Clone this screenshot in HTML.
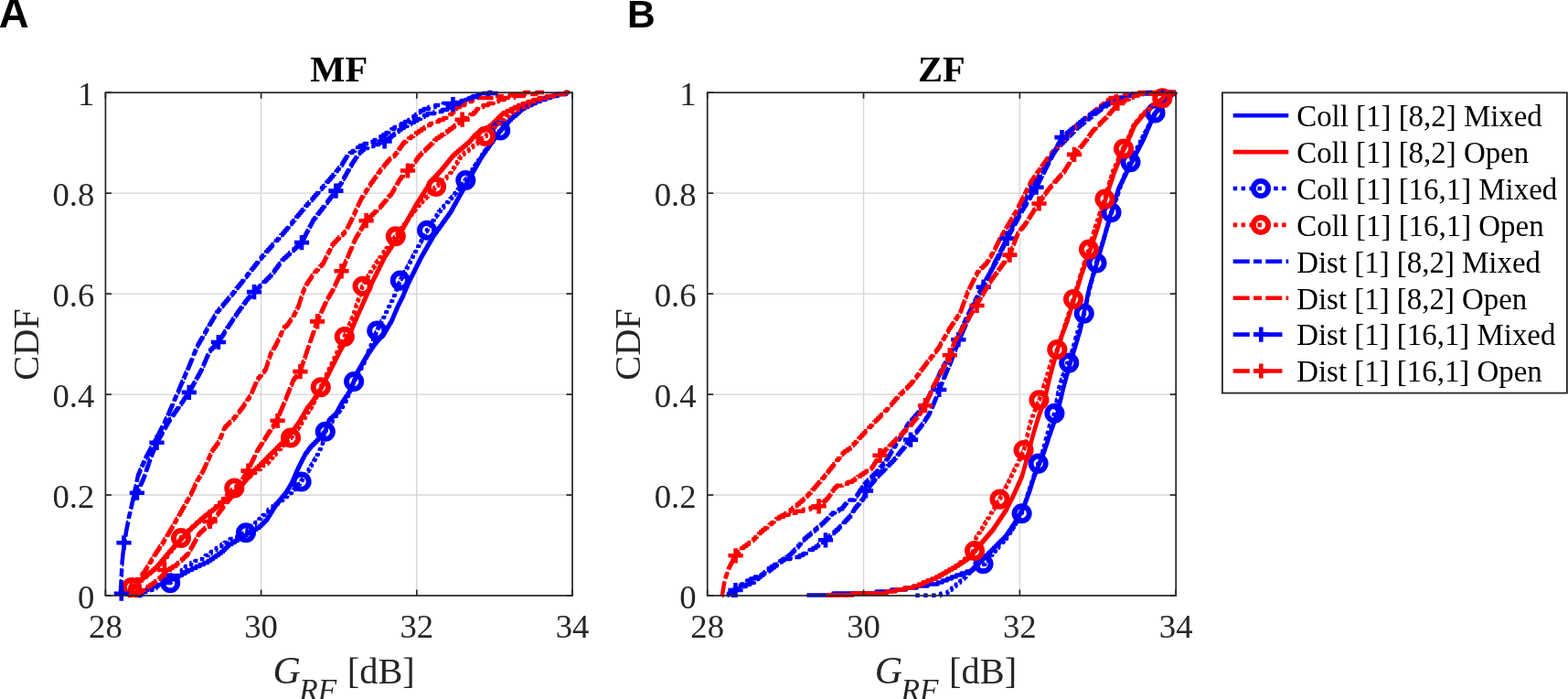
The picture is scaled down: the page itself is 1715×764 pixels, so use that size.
<!DOCTYPE html>
<html><head><meta charset="utf-8"><style>
html,body{margin:0;padding:0;background:#fff;overflow:hidden;}
svg{display:block;}
.tk{font-family:"Liberation Serif",serif;font-size:36.7px;fill:#262626;}
.ttl{font-family:"Liberation Serif",serif;font-size:40.5px;font-weight:bold;fill:#000;}
.lab{font-family:"Liberation Serif",serif;font-size:40.4px;fill:#262626;}
.lg{font-family:"Liberation Serif",serif;font-size:32.9px;fill:#000;}
.pl{font-family:"Liberation Sans",sans-serif;font-weight:bold;fill:#000;}
</style></head><body>
<svg width="1715" height="764" viewBox="0 0 1715 764">
<rect width="1715" height="764" fill="#fff"/>
<line x1="285.60" y1="101.20" x2="285.60" y2="651.00" stroke="#d6d6d6" stroke-width="1.4"/>
<line x1="455.80" y1="101.20" x2="455.80" y2="651.00" stroke="#d6d6d6" stroke-width="1.4"/>
<line x1="115.40" y1="541.04" x2="626.00" y2="541.04" stroke="#d6d6d6" stroke-width="1.4"/>
<line x1="115.40" y1="431.08" x2="626.00" y2="431.08" stroke="#d6d6d6" stroke-width="1.4"/>
<line x1="115.40" y1="321.12" x2="626.00" y2="321.12" stroke="#d6d6d6" stroke-width="1.4"/>
<line x1="115.40" y1="211.16" x2="626.00" y2="211.16" stroke="#d6d6d6" stroke-width="1.4"/>
<line x1="944.53" y1="101.20" x2="944.53" y2="651.00" stroke="#d6d6d6" stroke-width="1.4"/>
<line x1="1115.37" y1="101.20" x2="1115.37" y2="651.00" stroke="#d6d6d6" stroke-width="1.4"/>
<line x1="773.70" y1="541.04" x2="1286.20" y2="541.04" stroke="#d6d6d6" stroke-width="1.4"/>
<line x1="773.70" y1="431.08" x2="1286.20" y2="431.08" stroke="#d6d6d6" stroke-width="1.4"/>
<line x1="773.70" y1="321.12" x2="1286.20" y2="321.12" stroke="#d6d6d6" stroke-width="1.4"/>
<line x1="773.70" y1="211.16" x2="1286.20" y2="211.16" stroke="#d6d6d6" stroke-width="1.4"/>
<g stroke-linecap="butt">
<path d="M150.0 651.00H152.2V649.00H156.0V647.00H158.8V645.00H161.5V643.00H166.8V641.00H172.7V639.00H178.0V637.00H182.4V635.00H186.7V633.00H191.1V631.00H195.5V629.00H199.0V627.00H202.7V625.00H206.0V623.00H210.1V621.00H214.5V619.00H218.7V617.00H223.1V615.00H227.4V613.00H230.4V611.00H233.3V609.00H236.2V607.00H239.0V605.00H241.8V603.00H244.3V601.00H246.3V599.00H248.2V597.00H250.2V595.00H253.6V593.00H256.9V591.00H260.1V589.00H263.4V587.00H266.7V585.00H269.9V583.00H273.6V581.00H276.9V579.00H280.5V577.00H283.8V575.00H285.8V573.00H287.8V571.00H289.8V569.00H291.8V567.00H293.1V565.00H294.3V563.00H295.6V561.00H296.8V559.00H298.1V557.00H299.3V555.00H300.6V553.00H301.9V551.00H303.3V549.00H305.0V547.00H306.7V545.00H308.4V543.00H310.0V541.00H311.7V539.00H313.2V537.00H314.4V535.00H315.6V533.00H316.8V531.00H318.0V529.00H319.1V527.00H320.0V525.00H320.9V523.00H321.7V521.00H322.5V519.00H323.4V517.00H324.3V515.00H325.2V513.00H326.1V511.00H327.1V509.00H328.1V507.00H329.1V505.00H330.1V503.00H331.1V501.00H332.2V499.00H333.2V497.00H334.3V495.00H335.9V493.00H337.3V491.00H338.8V489.00H340.4V487.00H342.4V485.00H344.4V483.00H346.4V481.00H348.4V479.00H350.1V477.00H351.8V475.00H353.5V473.00H355.4V471.00H356.3V469.00H357.0V467.00H357.7V465.00H358.4V463.00H359.1V461.00H359.7V459.00H361.3V457.00H363.6V455.00H365.8V453.00H367.7V451.00H368.8V449.00H369.9V447.00H371.0V445.00H372.1V443.00H373.2V441.00H374.3V439.00H375.7V437.00H377.0V435.00H378.3V433.00H379.8V431.00H381.1V429.00H382.5V427.00H383.7V425.00H384.4V423.00H385.2V421.00H385.9V419.00H386.7V417.00H387.4V415.00H388.2V413.00H388.9V411.00H389.6V409.00H390.4V407.00H391.4V405.00H392.5V403.00H393.7V401.00H394.9V399.00H396.0V397.00H397.2V395.00H398.3V393.00H399.5V391.00H400.7V389.00H402.0V387.00H403.3V385.00H404.7V383.00H406.0V381.00H407.4V379.00H408.7V377.00H410.1V375.00H411.8V373.00H413.5V371.00H415.1V369.00H416.8V367.00H418.5V365.00H420.1V363.00H421.6V361.00H422.9V359.00H424.0V357.00H425.3V355.00H426.4V353.00H427.7V351.00H428.7V349.00H429.6V347.00H430.4V345.00H431.3V343.00H432.1V341.00H433.0V339.00H433.8V337.00H434.7V335.00H435.6V333.00H436.6V331.00H437.6V329.00H438.6V327.00H439.6V325.00H440.6V323.00H441.5V321.00H442.2V319.00H443.1V317.00H444.0V315.00H444.8V313.00H445.7V311.00H446.5V309.00H447.4V307.00H448.4V305.00H449.4V303.00H450.4V301.00H451.4V299.00H452.4V297.00H453.4V295.00H454.4V293.00H455.4V291.00H456.4V289.00H457.4V287.00H458.4V285.00H459.4V283.00H460.4V281.00H461.4V279.00H462.6V277.00H463.8V275.00H464.9V273.00H466.1V271.00H467.2V269.00H468.4V267.00H469.5V265.00H470.7V263.00H471.8V261.00H473.0V259.00H474.1V257.00H475.6V255.00H477.0V253.00H478.4V251.00H479.8V249.00H481.4V247.00H482.8V245.00H484.2V243.00H485.6V241.00H487.1V239.00H488.5V237.00H489.9V235.00H491.3V233.00H492.8V231.00H493.9V229.00H495.0V227.00H496.1V225.00H497.2V223.00H498.4V221.00H499.4V219.00H500.6V217.00H501.7V215.00H502.7V213.00H503.9V211.00H505.0V209.00H506.2V207.00H507.2V205.00H508.3V203.00H509.5V201.00H510.5V199.00H511.7V197.00H512.8V195.00H514.0V193.00H515.1V191.00H516.3V189.00H517.4V187.00H518.5V185.00H519.7V183.00H520.8V181.00H522.0V179.00H523.1V177.00H524.3V175.00H525.4V173.00H526.6V171.00H527.9V169.00H529.3V167.00H530.7V165.00H532.1V163.00H533.6V161.00H535.0V159.00H536.4V157.00H537.8V155.00H539.3V153.00H540.7V151.00H542.1V149.00H543.5V147.00H545.1V145.00H546.5V143.00H548.2V141.00H550.1V139.00H551.9V137.00H553.6V135.00H555.5V133.00H557.2V131.00H559.0V129.00H561.2V127.00H563.7V125.00H566.0V123.00H568.2V121.00H570.5V119.00H573.5V117.00H577.6V115.00H581.6V113.00H585.7V111.00H591.0V109.00H596.7V107.00H602.4V105.00H610.0V103.00H618.9V101.00H622.0" fill="none" stroke="#0000ff" stroke-width="4.4" stroke-linejoin="round"/>
<path d="M141.0 651.00H141.8V649.00H143.0V647.00H144.4V645.00H145.6V643.00H146.9V641.00H148.2V639.00H149.5V637.00H151.4V635.00H154.0V633.00H156.5V631.00H159.1V629.00H161.6V627.00H164.3V625.00H166.8V623.00H169.4V621.00H171.3V619.00H173.0V617.00H174.7V615.00H176.4V613.00H178.1V611.00H179.8V609.00H181.4V607.00H183.1V605.00H184.8V603.00H186.5V601.00H188.4V599.00H190.1V597.00H192.0V595.00H193.8V593.00H195.7V591.00H197.6V589.00H199.4V587.00H201.3V585.00H203.0V583.00H205.0V581.00H206.9V579.00H208.9V577.00H211.1V575.00H213.4V573.00H215.5V571.00H217.7V569.00H220.0V567.00H222.2V565.00H224.5V563.00H227.2V561.00H229.8V559.00H232.3V557.00H234.9V555.00H237.4V553.00H240.0V551.00H242.5V549.00H244.9V547.00H247.2V545.00H249.7V543.00H252.1V541.00H254.2V539.00H256.4V537.00H258.6V535.00H260.7V533.00H262.9V531.00H264.6V529.00H266.3V527.00H268.0V525.00H269.8V523.00H271.5V521.00H273.3V519.00H275.0V517.00H276.8V515.00H278.6V513.00H280.6V511.00H282.8V509.00H284.8V507.00H286.8V505.00H288.8V503.00H290.8V501.00H292.7V499.00H294.7V497.00H296.7V495.00H298.8V493.00H300.8V491.00H302.8V489.00H304.8V487.00H306.8V485.00H308.8V483.00H310.8V481.00H312.7V479.00H314.7V477.00H316.7V475.00H318.2V473.00H319.6V471.00H321.1V469.00H322.5V467.00H324.0V465.00H325.4V463.00H326.8V461.00H328.1V459.00H329.3V457.00H330.4V455.00H331.6V453.00H332.7V451.00H333.8V449.00H335.0V447.00H336.2V445.00H337.8V443.00H339.5V441.00H341.0V439.00H342.4V437.00H343.7V435.00H345.1V433.00H346.3V431.00H347.8V429.00H349.0V427.00H350.4V425.00H351.5V423.00H352.5V421.00H353.5V419.00H354.6V417.00H355.6V415.00H356.6V413.00H357.6V411.00H358.6V409.00H359.7V407.00H360.7V405.00H361.7V403.00H362.7V401.00H363.7V399.00H364.7V397.00H365.7V395.00H366.7V393.00H367.7V391.00H368.7V389.00H369.7V387.00H370.7V385.00H371.7V383.00H372.8V381.00H373.9V379.00H375.0V377.00H376.1V375.00H377.3V373.00H378.3V371.00H379.5V369.00H380.6V367.00H381.7V365.00H382.8V363.00H383.8V361.00H384.7V359.00H385.6V357.00H386.4V355.00H387.2V353.00H388.1V351.00H388.9V349.00H389.8V347.00H390.7V345.00H391.5V343.00H392.4V341.00H393.3V339.00H394.2V337.00H395.1V335.00H396.0V333.00H396.9V331.00H397.8V329.00H398.7V327.00H399.6V325.00H400.5V323.00H401.4V321.00H402.2V319.00H403.1V317.00H403.9V315.00H404.8V313.00H405.7V311.00H406.5V309.00H407.4V307.00H408.4V305.00H409.3V303.00H410.4V301.00H411.4V299.00H412.4V297.00H413.4V295.00H414.4V293.00H415.3V291.00H416.3V289.00H417.3V287.00H418.3V285.00H419.3V283.00H420.3V281.00H421.3V279.00H422.7V277.00H424.0V275.00H425.4V273.00H426.6V271.00H428.1V269.00H429.3V267.00H430.8V265.00H432.0V263.00H433.4V261.00H434.7V259.00H436.1V257.00H437.2V255.00H438.3V253.00H439.4V251.00H440.5V249.00H441.7V247.00H442.8V245.00H443.9V243.00H445.0V241.00H446.2V239.00H447.3V237.00H448.3V235.00H449.5V233.00H450.6V231.00H451.8V229.00H452.8V227.00H454.0V225.00H455.1V223.00H456.4V221.00H457.7V219.00H459.0V217.00H460.2V215.00H461.5V213.00H462.8V211.00H464.1V209.00H465.3V207.00H466.6V205.00H467.9V203.00H469.1V201.00H470.4V199.00H471.7V197.00H473.6V195.00H475.4V193.00H477.3V191.00H479.0V189.00H480.9V187.00H482.7V185.00H484.4V183.00H486.1V181.00H487.7V179.00H489.3V177.00H491.0V175.00H492.5V173.00H494.1V171.00H496.0V169.00H498.3V167.00H500.6V165.00H502.9V163.00H505.4V161.00H507.7V159.00H510.0V157.00H512.4V155.00H514.4V153.00H516.0V151.00H517.7V149.00H519.4V147.00H522.1V145.00H525.5V143.00H529.0V141.00H532.5V139.00H535.7V137.00H538.2V135.00H540.2V133.00H542.2V131.00H544.2V129.00H546.2V127.00H548.3V125.00H550.6V123.00H554.6V121.00H558.7V119.00H562.6V117.00H566.8V115.00H571.6V113.00H577.3V111.00H583.0V109.00H589.5V107.00H597.7V105.00H606.3V103.00H618.8V101.00H623.2" fill="none" stroke="#ff0000" stroke-width="4.4" stroke-linejoin="round"/>
<path d="M152.0 651.00H154.0V649.00H157.9V647.00H162.3V645.00H166.5V643.00H170.8V641.00H175.0V639.00H181.8V637.00H186.9V635.00H188.9V633.00H190.9V631.00H192.9V629.00H194.8V627.00H196.8V625.00H198.8V623.00H200.8V621.00H202.8V619.00H205.3V617.00H209.2V615.00H213.4V613.00H217.3V611.00H221.3V609.00H224.8V607.00H227.7V605.00H230.7V603.00H233.6V601.00H236.6V599.00H239.5V597.00H242.4V595.00H245.4V593.00H248.3V591.00H251.6V589.00H255.8V587.00H259.7V585.00H263.7V583.00H267.8V581.00H270.5V579.00H272.6V577.00H274.9V575.00H277.1V573.00H279.2V571.00H281.4V569.00H283.4V567.00H285.4V565.00H287.3V563.00H289.3V561.00H291.3V559.00H293.4V557.00H295.8V555.00H298.5V553.00H301.3V551.00H303.9V549.00H306.6V547.00H309.3V545.00H311.9V543.00H314.2V541.00H316.7V539.00H319.0V537.00H321.3V535.00H323.5V533.00H325.1V531.00H326.6V529.00H328.0V527.00H329.6V525.00H330.9V523.00H332.3V521.00H333.6V519.00H335.0V517.00H336.2V515.00H337.6V513.00H338.8V511.00H339.9V509.00H341.1V507.00H342.3V505.00H343.4V503.00H344.6V501.00H345.7V499.00H346.8V497.00H347.8V495.00H348.8V493.00H349.8V491.00H350.8V489.00H351.8V487.00H352.7V485.00H353.2V483.00H353.6V481.00H354.0V479.00H354.4V477.00H354.8V475.00H355.3V473.00H355.7V471.00H356.8V469.00H358.2V467.00H359.6V465.00H360.9V463.00H362.3V461.00H363.7V459.00H365.1V457.00H366.5V455.00H367.9V453.00H369.3V451.00H370.7V449.00H372.2V447.00H373.6V445.00H375.0V443.00H376.4V441.00H377.8V439.00H378.6V437.00H379.4V435.00H380.3V433.00H381.0V431.00H381.8V429.00H382.6V427.00H383.5V425.00H384.2V423.00H385.0V421.00H385.8V419.00H386.7V417.00H387.5V415.00H388.7V413.00H389.8V411.00H391.0V409.00H392.1V407.00H393.1V405.00H394.3V403.00H395.4V401.00H396.6V399.00H397.7V397.00H398.5V395.00H399.3V393.00H400.1V391.00H400.9V389.00H401.7V387.00H402.5V385.00H403.3V383.00H404.1V381.00H404.9V379.00H405.7V377.00H406.4V375.00H407.3V373.00H408.1V371.00H408.9V369.00H409.6V367.00H410.4V365.00H411.3V363.00H412.1V361.00H413.0V359.00H414.0V357.00H415.1V355.00H416.1V353.00H417.1V351.00H418.1V349.00H419.2V347.00H420.2V345.00H421.2V343.00H422.2V341.00H423.2V339.00H424.2V337.00H425.1V335.00H426.1V333.00H427.1V331.00H428.2V329.00H429.2V327.00H430.2V325.00H431.1V323.00H431.8V321.00H432.6V319.00H433.4V317.00H434.1V315.00H434.9V313.00H435.7V311.00H436.4V309.00H437.2V307.00H438.1V305.00H439.2V303.00H440.3V301.00H441.4V299.00H442.5V297.00H443.6V295.00H444.7V293.00H445.8V291.00H446.9V289.00H447.9V287.00H448.9V285.00H449.9V283.00H450.9V281.00H451.9V279.00H453.0V277.00H454.1V275.00H455.1V273.00H456.2V271.00H457.3V269.00H458.3V267.00H459.5V265.00H460.5V263.00H461.5V261.00H462.6V259.00H463.7V257.00H464.7V255.00H465.8V253.00H466.9V251.00H468.1V249.00H469.4V247.00H470.8V245.00H472.1V243.00H473.4V241.00H474.8V239.00H476.1V237.00H477.4V235.00H478.8V233.00H480.0V231.00H481.9V229.00H483.6V227.00H485.3V225.00H487.2V223.00H488.9V221.00H490.6V219.00H492.5V217.00H494.2V215.00H495.9V213.00H497.4V211.00H499.0V209.00H500.6V207.00H502.1V205.00H503.7V203.00H505.3V201.00H506.8V199.00H508.4V197.00H509.9V195.00H511.2V193.00H512.5V191.00H513.8V189.00H515.2V187.00H516.5V185.00H517.8V183.00H519.1V181.00H520.5V179.00H521.8V177.00H523.1V175.00H524.5V173.00H525.8V171.00H527.1V169.00H528.5V167.00H530.0V165.00H531.5V163.00H532.9V161.00H534.4V159.00H535.9V157.00H537.3V155.00H538.8V153.00H540.3V151.00H541.7V149.00H543.2V147.00H544.7V145.00H546.1V143.00H547.7V141.00H549.7V139.00H551.4V137.00H553.4V135.00H555.3V133.00H557.0V131.00H559.0V129.00H561.2V127.00H563.7V125.00H566.0V123.00H568.2V121.00H570.5V119.00H573.5V117.00H577.6V115.00H581.6V113.00H585.7V111.00H591.0V109.00H596.7V107.00H602.4V105.00H610.0V103.00H618.9V101.00H622.0" fill="none" stroke="#0000ff" stroke-width="4.4" stroke-linejoin="round" stroke-dasharray="4.5 4.4"/>
<circle cx="186.2" cy="637.3" r="8.1" fill="none" stroke="#0000ff" stroke-width="5.9"/>
<circle cx="269.0" cy="582.3" r="8.1" fill="none" stroke="#0000ff" stroke-width="5.9"/>
<circle cx="329.6" cy="526.5" r="8.1" fill="none" stroke="#0000ff" stroke-width="5.9"/>
<circle cx="355.8" cy="471.8" r="8.1" fill="none" stroke="#0000ff" stroke-width="5.9"/>
<circle cx="387.1" cy="417.0" r="8.1" fill="none" stroke="#0000ff" stroke-width="5.9"/>
<circle cx="412.3" cy="361.5" r="8.1" fill="none" stroke="#0000ff" stroke-width="5.9"/>
<circle cx="437.8" cy="306.6" r="8.1" fill="none" stroke="#0000ff" stroke-width="5.9"/>
<circle cx="467.1" cy="251.8" r="8.1" fill="none" stroke="#0000ff" stroke-width="5.9"/>
<circle cx="509.3" cy="197.0" r="8.1" fill="none" stroke="#0000ff" stroke-width="5.9"/>
<circle cx="547.2" cy="142.5" r="8.1" fill="none" stroke="#0000ff" stroke-width="5.9"/>
<path d="M143.0 651.00H143.1V649.00H143.4V647.00H143.6V645.00H143.9V643.00H145.1V641.00H147.6V639.00H150.1V637.00H152.6V635.00H155.1V633.00H157.6V631.00H160.1V629.00H162.2V627.00H164.5V625.00H166.7V623.00H169.0V621.00H171.2V619.00H173.4V617.00H175.7V615.00H177.9V613.00H180.0V611.00H181.6V609.00H183.0V607.00H184.6V605.00H186.0V603.00H187.6V601.00H189.0V599.00H190.6V597.00H192.0V595.00H193.6V593.00H195.0V591.00H196.6V589.00H198.0V587.00H200.2V585.00H202.2V583.00H204.4V581.00H206.5V579.00H208.7V577.00H210.8V575.00H212.9V573.00H215.0V571.00H217.4V569.00H219.7V567.00H222.2V565.00H224.5V563.00H226.9V561.00H229.2V559.00H231.5V557.00H233.9V555.00H236.1V553.00H238.1V551.00H240.1V549.00H242.1V547.00H244.0V545.00H246.0V543.00H248.0V541.00H250.0V539.00H251.9V537.00H253.9V535.00H255.9V533.00H258.4V531.00H260.9V529.00H263.6V527.00H266.2V525.00H268.7V523.00H271.5V521.00H274.0V519.00H276.6V517.00H279.3V515.00H282.3V513.00H285.0V511.00H287.8V509.00H290.6V507.00H292.8V505.00H294.5V503.00H296.4V501.00H298.1V499.00H299.8V497.00H301.7V495.00H303.4V493.00H305.1V491.00H307.0V489.00H308.8V487.00H310.8V485.00H312.7V483.00H314.7V481.00H316.6V479.00H318.5V477.00H319.9V475.00H321.4V473.00H323.0V471.00H324.4V469.00H326.0V467.00H327.4V465.00H328.9V463.00H330.2V461.00H331.5V459.00H332.7V457.00H333.8V455.00H335.1V453.00H336.3V451.00H337.4V449.00H338.7V447.00H339.9V445.00H341.1V443.00H342.3V441.00H343.2V439.00H344.1V437.00H345.0V435.00H346.0V433.00H346.9V431.00H347.7V429.00H348.6V427.00H349.5V425.00H350.5V423.00H351.4V421.00H352.3V419.00H353.3V417.00H354.2V415.00H355.1V413.00H356.1V411.00H357.0V409.00H357.9V407.00H358.9V405.00H359.8V403.00H360.7V401.00H361.7V399.00H362.7V397.00H363.6V395.00H364.6V393.00H365.5V391.00H366.4V389.00H367.4V387.00H368.3V385.00H369.3V383.00H370.2V381.00H371.2V379.00H372.1V377.00H373.1V375.00H374.0V373.00H375.0V371.00H375.9V369.00H376.8V367.00H377.6V365.00H378.5V363.00H379.3V361.00H380.2V359.00H381.0V357.00H381.8V355.00H382.6V353.00H383.5V351.00H384.3V349.00H385.1V347.00H386.0V345.00H386.6V343.00H387.2V341.00H387.9V339.00H388.5V337.00H389.2V335.00H389.8V333.00H390.5V331.00H391.1V329.00H391.7V327.00H392.4V325.00H393.0V323.00H393.6V321.00H394.3V319.00H394.9V317.00H395.6V315.00H396.2V313.00H397.1V311.00H398.3V309.00H399.4V307.00H400.5V305.00H401.7V303.00H402.7V301.00H403.9V299.00H405.0V297.00H406.2V295.00H407.3V293.00H408.7V291.00H410.0V289.00H411.3V287.00H412.7V285.00H414.0V283.00H415.4V281.00H416.6V279.00H418.2V277.00H419.6V275.00H421.2V273.00H422.6V271.00H424.2V269.00H425.6V267.00H427.2V265.00H428.6V263.00H430.0V261.00H431.6V259.00H433.0V257.00H434.6V255.00H436.0V253.00H437.4V251.00H439.0V249.00H440.4V247.00H441.8V245.00H443.4V243.00H444.8V241.00H446.2V239.00H447.8V237.00H449.2V235.00H450.6V233.00H452.2V231.00H453.6V229.00H455.0V227.00H456.9V225.00H458.7V223.00H460.6V221.00H462.3V219.00H464.2V217.00H466.0V215.00H467.9V213.00H469.7V211.00H471.6V209.00H473.3V207.00H475.2V205.00H477.0V203.00H479.4V201.00H481.7V199.00H483.9V197.00H486.2V195.00H488.5V193.00H490.7V191.00H492.3V189.00H493.5V187.00H494.7V185.00H496.0V183.00H497.3V181.00H498.5V179.00H499.8V177.00H501.0V175.00H502.3V173.00H503.6V171.00H505.3V169.00H507.6V167.00H510.2V165.00H512.7V163.00H515.0V161.00H517.4V159.00H519.9V157.00H522.4V155.00H524.7V153.00H527.2V151.00H529.7V149.00H531.9V147.00H533.9V145.00H535.8V143.00H537.8V141.00H539.8V139.00H541.8V137.00H544.0V135.00H546.7V133.00H549.3V131.00H551.8V129.00H554.3V127.00H557.0V125.00H559.6V123.00H563.3V121.00H566.6V119.00H570.3V117.00H574.3V115.00H578.9V113.00H583.5V111.00H588.5V109.00H594.4V107.00H600.5V105.00H607.7V103.00H618.4V101.00H622.0" fill="none" stroke="#ff0000" stroke-width="4.4" stroke-linejoin="round" stroke-dasharray="4.5 4.4"/>
<circle cx="144.0" cy="642.0" r="8.1" fill="none" stroke="#ff0000" stroke-width="5.9"/>
<circle cx="198.0" cy="588.0" r="8.1" fill="none" stroke="#ff0000" stroke-width="5.9"/>
<circle cx="256.3" cy="533.5" r="8.1" fill="none" stroke="#ff0000" stroke-width="5.9"/>
<circle cx="318.0" cy="478.5" r="8.1" fill="none" stroke="#ff0000" stroke-width="5.9"/>
<circle cx="350.8" cy="423.2" r="8.1" fill="none" stroke="#ff0000" stroke-width="5.9"/>
<circle cx="376.8" cy="368.0" r="8.1" fill="none" stroke="#ff0000" stroke-width="5.9"/>
<circle cx="396.6" cy="312.8" r="8.1" fill="none" stroke="#ff0000" stroke-width="5.9"/>
<circle cx="432.8" cy="258.3" r="8.1" fill="none" stroke="#ff0000" stroke-width="5.9"/>
<circle cx="477.0" cy="204.0" r="8.1" fill="none" stroke="#ff0000" stroke-width="5.9"/>
<circle cx="530.9" cy="148.9" r="8.1" fill="none" stroke="#ff0000" stroke-width="5.9"/>
<path d="M131.5 651.00H131.6V649.00H131.7V647.00H131.9V645.00H132.0V643.00H132.2V641.00H132.3V639.00H132.4V637.00H132.5V635.00H132.6V633.00H132.7V631.00H132.8V629.00H132.9V627.00H133.0V625.00H133.1V623.00H133.2V621.00H133.3V619.00H133.4V617.00H133.5V615.00H133.6V613.00H133.8V611.00H134.1V609.00H134.2V607.00H134.5V605.00H134.7V603.00H134.9V601.00H135.1V599.00H135.3V597.00H135.7V595.00H136.0V593.00H136.3V591.00H136.6V589.00H136.9V587.00H137.2V585.00H137.6V583.00H137.9V581.00H138.2V579.00H138.6V577.00H139.0V575.00H139.4V573.00H139.8V571.00H140.2V569.00H140.5V567.00H140.9V565.00H141.3V563.00H141.8V561.00H142.3V559.00H142.7V557.00H143.2V555.00H143.7V553.00H144.1V551.00H144.6V549.00H145.0V547.00H145.5V545.00H146.0V543.00H146.4V541.00H146.8V539.00H147.2V537.00H147.6V535.00H148.0V533.00H148.5V531.00H148.9V529.00H149.3V527.00H149.7V525.00H150.1V523.00H150.5V521.00H151.0V519.00H151.8V517.00H152.7V515.00H153.5V513.00H154.4V511.00H155.3V509.00H156.2V507.00H157.0V505.00H157.9V503.00H158.8V501.00H159.6V499.00H160.8V497.00H161.9V495.00H163.0V493.00H164.1V491.00H165.3V489.00H166.4V487.00H167.6V485.00H168.6V483.00H169.8V481.00H170.9V479.00H171.9V477.00H172.9V475.00H173.9V473.00H174.9V471.00H175.9V469.00H176.9V467.00H177.9V465.00H179.0V463.00H180.0V461.00H180.9V459.00H181.9V457.00H182.8V455.00H183.7V453.00H184.6V451.00H185.4V449.00H186.2V447.00H187.1V445.00H188.0V443.00H188.8V441.00H189.7V439.00H190.6V437.00H191.4V435.00H192.3V433.00H193.1V431.00H194.0V429.00H194.9V427.00H195.8V425.00H196.6V423.00H197.4V421.00H198.3V419.00H199.2V417.00H200.1V415.00H201.0V413.00H201.8V411.00H202.6V409.00H203.5V407.00H204.4V405.00H205.3V403.00H206.2V401.00H207.0V399.00H207.8V397.00H208.6V395.00H209.5V393.00H210.3V391.00H211.1V389.00H211.9V387.00H212.7V385.00H213.6V383.00H214.4V381.00H215.2V379.00H216.1V377.00H217.2V375.00H218.4V373.00H219.5V371.00H220.7V369.00H221.9V367.00H223.1V365.00H224.2V363.00H225.4V361.00H226.5V359.00H227.7V357.00H228.8V355.00H230.0V353.00H231.1V351.00H232.4V349.00H233.5V347.00H234.7V345.00H235.8V343.00H237.0V341.00H238.7V339.00H240.3V337.00H242.0V335.00H243.7V333.00H245.3V331.00H247.0V329.00H248.7V327.00H250.4V325.00H252.0V323.00H253.7V321.00H255.4V319.00H257.0V317.00H258.5V315.00H260.1V313.00H261.7V311.00H263.4V309.00H264.9V307.00H266.5V305.00H268.1V303.00H269.7V301.00H271.3V299.00H272.8V297.00H274.5V295.00H276.1V293.00H277.7V291.00H279.3V289.00H280.8V287.00H282.4V285.00H284.1V283.00H285.7V281.00H287.4V279.00H289.1V277.00H291.0V275.00H292.7V273.00H294.6V271.00H296.4V269.00H298.1V267.00H300.0V265.00H301.7V263.00H303.6V261.00H305.4V259.00H307.2V257.00H309.0V255.00H310.7V253.00H312.4V251.00H314.1V249.00H315.7V247.00H317.4V245.00H319.1V243.00H320.7V241.00H322.4V239.00H324.1V237.00H325.7V235.00H327.4V233.00H329.1V231.00H330.7V229.00H332.4V227.00H334.2V225.00H335.9V223.00H337.8V221.00H339.5V219.00H341.4V217.00H343.1V215.00H344.8V213.00H346.6V211.00H348.4V209.00H350.2V207.00H351.9V205.00H353.7V203.00H355.5V201.00H357.2V199.00H359.0V197.00H360.8V195.00H362.5V193.00H364.2V191.00H365.8V189.00H367.5V187.00H369.2V185.00H370.8V183.00H372.5V181.00H374.0V179.00H375.2V177.00H376.4V175.00H377.6V173.00H378.9V171.00H380.0V169.00H382.7V167.00H385.5V165.00H388.3V163.00H391.0V161.00H393.8V159.00H398.4V157.00H403.9V155.00H409.3V153.00H413.3V151.00H416.3V149.00H419.3V147.00H422.3V145.00H425.3V143.00H428.3V141.00H431.3V139.00H435.0V137.00H439.0V135.00H442.9V133.00H446.9V131.00H449.9V129.00H452.3V127.00H454.8V125.00H457.3V123.00H459.8V121.00H463.5V119.00H469.0V117.00H476.1V115.00H484.7V113.00H501.9V111.00H508.9V109.00H513.3V107.00H517.3V105.00H524.6V103.00H534.7V101.00H538.5" fill="none" stroke="#0000ff" stroke-width="4.4" stroke-linejoin="round" stroke-dasharray="18 4.3 9 4.3"/>
<path d="M140.0 651.00H140.3V649.00H140.9V647.00H141.4V645.00H142.0V643.00H142.6V641.00H143.6V639.00H145.6V637.00H147.6V635.00H149.6V633.00H151.5V631.00H153.5V629.00H155.5V627.00H157.4V625.00H158.6V623.00H159.9V621.00H161.1V619.00H162.4V617.00H163.6V615.00H164.8V613.00H166.0V611.00H167.3V609.00H168.5V607.00H169.8V605.00H171.0V603.00H172.4V601.00H173.7V599.00H175.0V597.00H176.3V595.00H177.7V593.00H179.0V591.00H180.2V589.00H181.5V587.00H182.6V585.00H183.9V583.00H185.0V581.00H186.2V579.00H187.4V577.00H188.6V575.00H189.8V573.00H190.9V571.00H192.0V569.00H193.2V567.00H194.3V565.00H195.5V563.00H196.6V561.00H197.7V559.00H198.9V557.00H200.0V555.00H201.2V553.00H202.3V551.00H203.4V549.00H204.5V547.00H205.7V545.00H206.8V543.00H208.0V541.00H209.0V539.00H209.9V537.00H210.9V535.00H211.8V533.00H212.7V531.00H213.6V529.00H214.6V527.00H215.5V525.00H216.7V523.00H217.9V521.00H219.1V519.00H220.2V517.00H221.5V515.00H222.6V513.00H223.5V511.00H224.4V509.00H225.3V507.00H226.2V505.00H227.1V503.00H228.0V501.00H228.9V499.00H229.8V497.00H230.7V495.00H231.6V493.00H232.7V491.00H234.3V489.00H235.8V487.00H237.2V485.00H238.8V483.00H239.7V481.00H240.5V479.00H241.4V477.00H242.3V475.00H243.1V473.00H244.0V471.00H244.8V469.00H245.7V467.00H247.3V465.00H249.3V463.00H251.3V461.00H253.3V459.00H255.3V457.00H256.9V455.00H258.5V453.00H260.0V451.00H261.7V449.00H263.3V447.00H264.9V445.00H266.3V443.00H267.6V441.00H268.9V439.00H270.3V437.00H271.6V435.00H273.0V433.00H274.3V431.00H275.2V429.00H276.0V427.00H276.8V425.00H277.7V423.00H278.5V421.00H279.4V419.00H280.2V417.00H281.1V415.00H282.4V413.00H284.1V411.00H285.7V409.00H287.4V407.00H288.9V405.00H290.5V403.00H291.3V401.00H291.9V399.00H292.6V397.00H293.2V395.00H293.8V393.00H294.5V391.00H295.1V389.00H295.7V387.00H296.6V385.00H297.8V383.00H299.0V381.00H300.1V379.00H301.3V377.00H302.3V375.00H303.3V373.00H304.3V371.00H305.3V369.00H306.3V367.00H307.1V365.00H307.9V363.00H308.7V361.00H309.4V359.00H310.9V357.00H313.5V355.00H315.3V353.00H316.5V351.00H318.0V349.00H319.3V347.00H320.8V345.00H321.9V343.00H322.9V341.00H323.9V339.00H324.9V337.00H325.9V335.00H326.8V333.00H327.4V331.00H328.0V329.00H328.6V327.00H329.3V325.00H329.9V323.00H330.5V321.00H331.2V319.00H332.1V317.00H333.0V315.00H333.9V313.00H334.8V311.00H336.0V309.00H337.3V307.00H338.6V305.00H339.9V303.00H341.2V301.00H342.4V299.00H344.3V297.00H346.2V295.00H348.0V293.00H349.9V291.00H351.7V289.00H353.5V287.00H354.5V285.00H355.5V283.00H356.4V281.00H357.4V279.00H358.4V277.00H359.4V275.00H360.5V273.00H361.5V271.00H362.5V269.00H363.4V267.00H365.1V265.00H367.1V263.00H369.0V261.00H371.0V259.00H373.0V257.00H375.1V255.00H377.1V253.00H378.8V251.00H379.8V249.00H380.7V247.00H381.7V245.00H382.7V243.00H383.7V241.00H384.7V239.00H385.7V237.00H386.5V235.00H387.5V233.00H388.4V231.00H389.4V229.00H390.2V227.00H391.2V225.00H392.0V223.00H393.0V221.00H393.9V219.00H394.9V217.00H396.1V215.00H397.4V213.00H398.7V211.00H399.8V209.00H401.1V207.00H402.4V205.00H403.7V203.00H404.9V201.00H406.2V199.00H407.8V197.00H409.2V195.00H410.6V193.00H411.9V191.00H413.5V189.00H414.9V187.00H416.3V185.00H418.0V183.00H419.7V181.00H421.3V179.00H423.0V177.00H424.7V175.00H426.4V173.00H428.9V171.00H431.5V169.00H433.2V167.00H434.7V165.00H436.1V163.00H437.5V161.00H438.9V159.00H440.3V157.00H442.0V155.00H444.5V153.00H447.1V151.00H449.6V149.00H452.2V147.00H455.0V145.00H458.0V143.00H461.0V141.00H464.0V139.00H467.0V137.00H470.5V135.00H475.4V133.00H480.2V131.00H485.1V129.00H488.4V127.00H492.1V125.00H494.6V123.00H496.3V121.00H497.9V119.00H499.6V117.00H503.2V115.00H508.5V113.00H512.7V111.00H516.5V109.00H519.8V107.00H541.9V105.00H557.8V103.00H573.7V101.00H580.0" fill="none" stroke="#ff0000" stroke-width="4.4" stroke-linejoin="round" stroke-dasharray="18 4.3 9 4.3"/>
<path d="M145.5 546.00H146.1V544.00H147.4V542.00H148.6V540.00H149.9V538.00H150.8V536.00H151.7V534.00H152.6V532.00H153.5V530.00H154.4V528.00H155.3V526.00H156.2V524.00H157.1V522.00H157.8V520.00H158.5V518.00H159.2V516.00H159.9V514.00H160.6V512.00H161.3V510.00H161.9V508.00H162.7V506.00H163.3V504.00H164.0V502.00H164.7V500.00H165.4V498.00H166.3V496.00H167.0V494.00H167.8V492.00H168.7V490.00H169.5V488.00H170.2V486.00H171.1V484.00H172.0V482.00H173.2V480.00H174.3V478.00H175.4V476.00H176.6V474.00H177.7V472.00H178.8V470.00H179.9V468.00H181.0V466.00H182.2V464.00H183.3V462.00H184.5V460.00H185.8V458.00H187.2V456.00H188.6V454.00H190.0V452.00H191.3V450.00H192.7V448.00H194.2V446.00H195.6V444.00H197.0V442.00H198.4V440.00H199.8V438.00H201.1V436.00H202.5V434.00H204.0V432.00H205.4V430.00H206.8V428.00H207.9V426.00H209.0V424.00H210.1V422.00H211.2V420.00H212.3V418.00H213.4V416.00H214.6V414.00H215.6V412.00H216.7V410.00H217.9V408.00H218.9V406.00H220.1V404.00H220.9V402.00H221.8V400.00H222.7V398.00H223.6V396.00H224.5V394.00H225.3V392.00H226.2V390.00H227.1V388.00H227.9V386.00H228.8V384.00H230.1V382.00H232.1V380.00H234.1V378.00H236.1V376.00H238.0V374.00H239.5V372.00H240.8V370.00H242.1V368.00H243.4V366.00H244.7V364.00H245.9V362.00H247.1V360.00H248.4V358.00H249.8V356.00H251.1V354.00H252.5V352.00H253.8V350.00H255.1V348.00H256.5V346.00H257.8V344.00H259.2V342.00H260.5V340.00H262.0V338.00H263.5V336.00H264.9V334.00H266.4V332.00H267.9V330.00H269.3V328.00H270.9V326.00H272.7V324.00H274.6V322.00H276.4V320.00H278.1V318.00H280.3V316.00H282.3V314.00H284.4V312.00H286.5V310.00H288.5V308.00H290.5V306.00H292.5V304.00H294.5V302.00H296.5V300.00H298.1V298.00H299.7V296.00H301.1V294.00H302.6V292.00H304.1V290.00H305.6V288.00H307.1V286.00H308.6V284.00H310.5V282.00H312.7V280.00H314.9V278.00H317.0V276.00H319.2V274.00H321.4V272.00H323.6V270.00H325.9V268.00H327.9V266.00H330.1V264.00H331.1V262.00H332.2V260.00H333.2V258.00H334.2V256.00H335.2V254.00H336.3V252.00H337.3V250.00H338.4V248.00H339.4V246.00H340.5V244.00H341.5V242.00H342.5V240.00H344.1V238.00H345.6V236.00H347.2V234.00H348.8V232.00H350.3V230.00H351.9V228.00H353.4V226.00H355.0V224.00H356.5V222.00H358.1V220.00H359.5V218.00H361.1V216.00H362.6V214.00H364.1V212.00H365.6V210.00H367.2V208.00H368.5V206.00H369.9V204.00H371.3V202.00H372.7V200.00H374.0V198.00H375.1V196.00H376.1V194.00H377.3V192.00H378.4V190.00H379.5V188.00H380.6V186.00H381.8V184.00H382.8V182.00H384.0V180.00H385.2V178.00H386.5V176.00H387.8V174.00H389.1V172.00H390.5V170.00H391.8V168.00H393.6V166.00H395.9V164.00H398.0V162.00H402.3V160.00H408.5V158.00H414.6V156.00H420.6V154.00H423.3V152.00H425.8V150.00H428.4V148.00H431.1V146.00H433.6V144.00H436.2V142.00H438.7V140.00H441.9V138.00H445.6V136.00H449.3V134.00H453.0V132.00H456.5V130.00H460.2V128.00H463.9V126.00H467.6V124.00H475.4V122.00H483.7V120.00H489.4V118.00H492.2V116.00H494.8V114.00H498.5V112.00H504.4V110.00H510.1V108.00H516.1V106.00H522.2V104.00H528.5V102.00H545.0" fill="none" stroke="#0000ff" stroke-width="4.4" stroke-linejoin="round" stroke-dasharray="18 4.3"/>
<path d="M124.7 648.7H140.9M132.8 640.6V656.8" stroke="#0000ff" stroke-width="4.6" fill="none"/>
<path d="M127.4 593.3H143.6M135.5 585.2V601.4" stroke="#0000ff" stroke-width="4.6" fill="none"/>
<path d="M141.8 538.7H158.0M149.9 530.6V546.8" stroke="#0000ff" stroke-width="4.6" fill="none"/>
<path d="M163.4 483.8H179.6M171.5 475.7V491.9" stroke="#0000ff" stroke-width="4.6" fill="none"/>
<path d="M198.7 428.9H214.9M206.8 420.8V437.0" stroke="#0000ff" stroke-width="4.6" fill="none"/>
<path d="M230.8 374.0H247.0M238.9 365.9V382.1" stroke="#0000ff" stroke-width="4.6" fill="none"/>
<path d="M269.9 319.1H286.1M278.0 311.0V327.2" stroke="#0000ff" stroke-width="4.6" fill="none"/>
<path d="M321.9 265.1H338.1M330.0 257.0V273.2" stroke="#0000ff" stroke-width="4.6" fill="none"/>
<path d="M359.3 208.6H375.5M367.4 200.5V216.7" stroke="#0000ff" stroke-width="4.6" fill="none"/>
<path d="M412.5 154.5H428.7M420.6 146.4V162.6" stroke="#0000ff" stroke-width="4.6" fill="none"/>
<path d="M487.4 114.0H503.6M495.5 105.9V122.1" stroke="#0000ff" stroke-width="4.6" fill="none"/>
<path d="M147.0 651.00H148.7V649.00H152.0V647.00H155.4V645.00H158.5V643.00H161.5V641.00H164.4V639.00H167.4V637.00H169.9V635.00H172.2V633.00H174.5V631.00H177.0V629.00H178.7V627.00H180.1V625.00H181.9V623.00H185.5V621.00H188.8V619.00H192.4V617.00H194.5V615.00H196.7V613.00H198.8V611.00H201.0V609.00H203.0V607.00H205.2V605.00H206.3V603.00H207.4V601.00H208.7V599.00H209.8V597.00H211.0V595.00H212.1V593.00H213.3V591.00H214.4V589.00H215.4V587.00H216.6V585.00H217.7V583.00H219.4V581.00H221.6V579.00H223.9V577.00H226.1V575.00H228.4V573.00H230.6V571.00H232.4V569.00H233.8V567.00H235.4V565.00H236.8V563.00H238.4V561.00H239.8V559.00H241.3V557.00H242.8V555.00H244.3V553.00H245.9V551.00H247.5V549.00H249.2V547.00H250.8V545.00H252.3V543.00H254.0V541.00H255.6V539.00H257.2V537.00H258.6V535.00H259.8V533.00H260.9V531.00H262.1V529.00H263.2V527.00H264.3V525.00H265.4V523.00H266.5V521.00H267.7V519.00H268.8V517.00H270.0V515.00H271.1V513.00H272.1V511.00H273.1V509.00H274.1V507.00H275.1V505.00H276.0V503.00H277.0V501.00H278.0V499.00H278.9V497.00H279.9V495.00H280.9V493.00H282.1V491.00H283.3V489.00H284.5V487.00H285.8V485.00H287.1V483.00H288.3V481.00H289.6V479.00H290.8V477.00H292.1V475.00H293.3V473.00H294.7V471.00H296.0V469.00H297.3V467.00H298.7V465.00H300.0V463.00H301.4V461.00H302.7V459.00H303.5V457.00H304.4V455.00H305.2V453.00H306.0V451.00H306.8V449.00H307.7V447.00H308.5V445.00H309.4V443.00H310.1V441.00H311.0V439.00H311.8V437.00H312.7V435.00H313.5V433.00H314.2V431.00H315.1V429.00H315.9V427.00H316.7V425.00H317.4V423.00H318.3V421.00H319.1V419.00H319.9V417.00H320.7V415.00H322.2V413.00H323.7V411.00H325.4V409.00H326.9V407.00H328.5V405.00H329.1V403.00H329.7V401.00H330.3V399.00H331.0V397.00H331.7V395.00H332.4V393.00H333.1V391.00H333.8V389.00H334.5V387.00H335.1V385.00H335.9V383.00H336.5V381.00H337.2V379.00H337.9V377.00H338.6V375.00H339.3V373.00H340.0V371.00H340.6V369.00H341.3V367.00H342.0V365.00H342.7V363.00H343.4V361.00H344.0V359.00H344.7V357.00H345.3V355.00H346.0V353.00H346.7V351.00H347.5V349.00H348.4V347.00H349.3V345.00H350.2V343.00H351.2V341.00H352.1V339.00H353.0V337.00H353.9V335.00H354.8V333.00H355.8V331.00H356.7V329.00H357.5V327.00H358.7V325.00H360.0V323.00H361.1V321.00H362.4V319.00H363.6V317.00H364.6V315.00H365.5V313.00H366.5V311.00H367.4V309.00H368.4V307.00H369.3V305.00H370.2V303.00H371.2V301.00H372.1V299.00H373.1V297.00H374.0V295.00H374.9V293.00H375.7V291.00H376.5V289.00H377.4V287.00H378.2V285.00H379.1V283.00H380.0V281.00H380.8V279.00H381.6V277.00H382.4V275.00H383.3V273.00H384.2V271.00H385.1V269.00H385.9V267.00H386.7V265.00H387.6V263.00H388.5V261.00H389.5V259.00H390.6V257.00H391.9V255.00H393.0V253.00H394.2V251.00H395.5V249.00H396.6V247.00H397.8V245.00H399.0V243.00H400.2V241.00H401.9V239.00H403.9V237.00H406.0V235.00H408.1V233.00H410.1V231.00H412.2V229.00H414.2V227.00H416.2V225.00H417.9V223.00H419.6V221.00H421.3V219.00H423.0V217.00H424.7V215.00H426.3V213.00H428.2V211.00H429.3V209.00H430.5V207.00H431.6V205.00H432.8V203.00H434.0V201.00H435.2V199.00H436.3V197.00H437.5V195.00H439.1V193.00H441.0V191.00H443.1V189.00H445.0V187.00H447.1V185.00H448.6V183.00H450.0V181.00H451.6V179.00H453.1V177.00H454.6V175.00H456.1V173.00H457.5V171.00H459.2V169.00H461.2V167.00H463.2V165.00H465.2V163.00H467.2V161.00H469.3V159.00H471.3V157.00H473.3V155.00H475.2V153.00H477.3V151.00H480.3V149.00H483.1V147.00H486.0V145.00H489.0V143.00H491.8V141.00H494.6V139.00H497.0V137.00H499.3V135.00H501.8V133.00H504.1V131.00H507.0V129.00H510.7V127.00H514.3V125.00H518.0V123.00H520.1V121.00H521.6V119.00H523.2V117.00H528.4V115.00H534.1V113.00H539.8V111.00H545.3V109.00H551.8V107.00H562.4V105.00H573.0V103.00H586.7V101.00H595.0" fill="none" stroke="#ff0000" stroke-width="4.4" stroke-linejoin="round" stroke-dasharray="18 4.3"/>
<path d="M171.9 623.0H188.1M180.0 614.9V631.1" stroke="#ff0000" stroke-width="4.6" fill="none"/>
<path d="M221.5 570.0H237.7M229.6 561.9V578.1" stroke="#ff0000" stroke-width="4.6" fill="none"/>
<path d="M263.4 514.6H279.6M271.5 506.5V522.7" stroke="#ff0000" stroke-width="4.6" fill="none"/>
<path d="M295.5 459.8H311.7M303.6 451.7V467.9" stroke="#ff0000" stroke-width="4.6" fill="none"/>
<path d="M320.3 406.1H336.5M328.4 398.0V414.2" stroke="#ff0000" stroke-width="4.6" fill="none"/>
<path d="M339.0 351.4H355.2M347.1 343.3V359.5" stroke="#ff0000" stroke-width="4.6" fill="none"/>
<path d="M365.4 296.3H381.6M373.5 288.2V304.4" stroke="#ff0000" stroke-width="4.6" fill="none"/>
<path d="M392.5 241.2H408.7M400.6 233.1V249.3" stroke="#ff0000" stroke-width="4.6" fill="none"/>
<path d="M437.9 186.5H454.1M446.0 178.4V194.6" stroke="#ff0000" stroke-width="4.6" fill="none"/>
<path d="M497.5 130.7H513.7M505.6 122.6V138.8" stroke="#ff0000" stroke-width="4.6" fill="none"/>
<path d="M882.4 650.50H911.2V648.50H958.4V646.50H974.9V644.50H991.0V642.50H1002.9V640.50H1014.8V638.50H1025.8V636.50H1030.8V634.50H1035.9V632.50H1040.9V630.50H1045.9V628.50H1051.4V626.50H1057.3V624.50H1062.9V622.50H1064.9V620.50H1066.9V618.50H1068.9V616.50H1070.9V614.50H1072.8V612.50H1074.8V610.50H1076.8V608.50H1078.8V606.50H1080.7V604.50H1082.9V602.50H1084.8V600.50H1086.8V598.50H1088.8V596.50H1090.8V594.50H1092.8V592.50H1094.8V590.50H1096.9V588.50H1098.9V586.50H1100.6V584.50H1102.0V582.50H1103.3V580.50H1104.7V578.50H1106.0V576.50H1107.3V574.50H1108.7V572.50H1110.0V570.50H1111.1V568.50H1112.3V566.50H1113.4V564.50H1114.5V562.50H1115.7V560.50H1116.8V558.50H1118.0V556.50H1119.1V554.50H1119.9V552.50H1120.6V550.50H1121.4V548.50H1122.1V546.50H1122.9V544.50H1123.6V542.50H1124.4V540.50H1125.1V538.50H1125.8V536.50H1126.6V534.50H1127.2V532.50H1127.8V530.50H1128.4V528.50H1129.0V526.50H1129.7V524.50H1130.3V522.50H1131.0V520.50H1131.6V518.50H1132.5V516.50H1133.3V514.50H1134.1V512.50H1134.9V510.50H1135.7V508.50H1136.5V506.50H1137.3V504.50H1138.1V502.50H1138.9V500.50H1139.7V498.50H1140.6V496.50H1141.3V494.50H1142.1V492.50H1142.8V490.50H1143.4V488.50H1144.1V486.50H1144.8V484.50H1145.5V482.50H1146.1V480.50H1146.8V478.50H1147.4V476.50H1148.1V474.50H1148.8V472.50H1149.5V470.50H1150.1V468.50H1150.9V466.50H1151.6V464.50H1152.3V462.50H1153.1V460.50H1153.8V458.50H1154.5V456.50H1155.2V454.50H1156.0V452.50H1156.7V450.50H1157.1V448.50H1157.6V446.50H1158.0V444.50H1158.5V442.50H1159.0V440.50H1159.4V438.50H1159.9V436.50H1160.4V434.50H1160.9V432.50H1161.3V430.50H1161.8V428.50H1162.2V426.50H1162.7V424.50H1163.2V422.50H1163.8V420.50H1164.3V418.50H1164.9V416.50H1165.4V414.50H1165.9V412.50H1166.5V410.50H1167.0V408.50H1167.6V406.50H1168.1V404.50H1168.7V402.50H1169.3V400.50H1169.9V398.50H1170.4V396.50H1171.1V394.50H1171.6V392.50H1172.2V390.50H1172.9V388.50H1173.4V386.50H1174.1V384.50H1174.6V382.50H1175.2V380.50H1175.9V378.50H1176.4V376.50H1177.1V374.50H1177.7V372.50H1178.3V370.50H1178.9V368.50H1179.4V366.50H1180.1V364.50H1180.7V362.50H1181.3V360.50H1181.8V358.50H1182.2V356.50H1182.7V354.50H1183.1V352.50H1183.6V350.50H1184.0V348.50H1184.4V346.50H1184.8V344.50H1185.3V342.50H1185.7V340.50H1186.1V338.50H1186.5V336.50H1187.0V334.50H1187.4V332.50H1187.8V330.50H1188.2V328.50H1188.7V326.50H1189.1V324.50H1189.5V322.50H1189.9V320.50H1190.4V318.50H1190.8V316.50H1191.2V314.50H1191.8V312.50H1192.4V310.50H1193.0V308.50H1193.6V306.50H1194.2V304.50H1194.8V302.50H1195.4V300.50H1196.1V298.50H1196.7V296.50H1197.3V294.50H1197.9V292.50H1198.6V290.50H1199.2V288.50H1199.7V286.50H1200.3V284.50H1200.9V282.50H1201.4V280.50H1202.0V278.50H1202.6V276.50H1203.1V274.50H1203.8V272.50H1204.3V270.50H1204.9V268.50H1205.5V266.50H1206.0V264.50H1206.6V262.50H1207.2V260.50H1207.7V258.50H1208.3V256.50H1208.9V254.50H1209.4V252.50H1209.9V250.50H1210.5V248.50H1211.1V246.50H1211.6V244.50H1212.2V242.50H1212.7V240.50H1213.3V238.50H1213.9V236.50H1214.4V234.50H1215.0V232.50H1215.6V230.50H1216.2V228.50H1216.9V226.50H1217.5V224.50H1218.1V222.50H1218.7V220.50H1219.4V218.50H1220.0V216.50H1220.6V214.50H1221.2V212.50H1221.8V210.50H1222.5V208.50H1223.1V206.50H1223.9V204.50H1224.9V202.50H1225.9V200.50H1226.8V198.50H1227.8V196.50H1228.8V194.50H1229.8V192.50H1230.8V190.50H1231.8V188.50H1232.7V186.50H1233.7V184.50H1234.7V182.50H1235.6V180.50H1236.6V178.50H1237.6V176.50H1238.7V174.50H1239.7V172.50H1240.7V170.50H1241.7V168.50H1242.7V166.50H1243.8V164.50H1244.9V162.50H1245.9V160.50H1246.9V158.50H1247.9V156.50H1249.0V154.50H1250.0V152.50H1251.0V150.50H1251.9V148.50H1252.8V146.50H1253.7V144.50H1254.5V142.50H1255.3V140.50H1256.2V138.50H1257.1V136.50H1258.0V134.50H1258.8V132.50H1259.6V130.50H1260.5V128.50H1261.4V126.50H1262.2V124.50H1263.7V122.50H1265.3V120.50H1266.9V118.50H1268.4V116.50H1270.1V114.50H1271.7V112.50H1273.3V110.50H1274.8V108.50H1277.0V106.50H1279.4V104.50H1281.8V102.50H1285.2V100.50H1286.0" fill="none" stroke="#0000ff" stroke-width="4.4" stroke-linejoin="round"/>
<path d="M903.6 650.50H932.0V648.50H969.9V646.50H979.7V644.50H989.3V642.50H998.9V640.50H1005.0V638.50H1009.6V636.50H1014.4V634.50H1019.2V632.50H1023.8V630.50H1027.7V628.50H1031.2V626.50H1034.7V624.50H1038.2V622.50H1041.7V620.50H1045.2V618.50H1048.4V616.50H1051.5V614.50H1054.5V612.50H1057.5V610.50H1060.3V608.50H1062.0V606.50H1063.7V604.50H1065.3V602.50H1067.0V600.50H1068.7V598.50H1070.3V596.50H1072.0V594.50H1073.7V592.50H1075.4V590.50H1077.1V588.50H1078.8V586.50H1080.5V584.50H1082.2V582.50H1083.9V580.50H1085.7V578.50H1087.1V576.50H1088.4V574.50H1089.8V572.50H1091.1V570.50H1092.5V568.50H1093.8V566.50H1095.2V564.50H1096.5V562.50H1097.8V560.50H1099.2V558.50H1100.5V556.50H1101.5V554.50H1102.4V552.50H1103.4V550.50H1104.4V548.50H1105.4V546.50H1106.5V544.50H1107.5V542.50H1108.4V540.50H1109.4V538.50H1110.3V536.50H1111.2V534.50H1112.1V532.50H1113.0V530.50H1113.9V528.50H1114.8V526.50H1115.7V524.50H1116.5V522.50H1117.4V520.50H1118.2V518.50H1118.7V516.50H1119.3V514.50H1119.8V512.50H1120.4V510.50H1121.0V508.50H1121.5V506.50H1122.0V504.50H1122.6V502.50H1123.1V500.50H1123.6V498.50H1124.2V496.50H1124.7V494.50H1125.2V492.50H1125.7V490.50H1126.2V488.50H1126.7V486.50H1127.2V484.50H1127.8V482.50H1128.3V480.50H1128.8V478.50H1129.3V476.50H1129.9V474.50H1130.5V472.50H1131.1V470.50H1131.7V468.50H1132.2V466.50H1132.9V464.50H1133.5V462.50H1134.1V460.50H1134.7V458.50H1135.3V456.50H1136.0V454.50H1136.7V452.50H1137.4V450.50H1138.2V448.50H1138.9V446.50H1139.7V444.50H1140.5V442.50H1141.2V440.50H1141.9V438.50H1142.4V436.50H1142.9V434.50H1143.4V432.50H1143.8V430.50H1144.3V428.50H1144.7V426.50H1145.2V424.50H1145.7V422.50H1146.1V420.50H1146.6V418.50H1147.0V416.50H1147.5V414.50H1148.0V412.50H1148.5V410.50H1149.0V408.50H1149.6V406.50H1150.1V404.50H1150.6V402.50H1151.2V400.50H1151.7V398.50H1152.3V396.50H1152.9V394.50H1153.4V392.50H1153.9V390.50H1154.4V388.50H1155.1V386.50H1155.6V384.50H1156.3V382.50H1156.8V380.50H1157.5V378.50H1158.0V376.50H1158.6V374.50H1159.2V372.50H1159.8V370.50H1160.4V368.50H1161.1V366.50H1161.8V364.50H1162.6V362.50H1163.3V360.50H1164.1V358.50H1164.9V356.50H1165.6V354.50H1166.4V352.50H1167.1V350.50H1167.8V348.50H1168.4V346.50H1169.0V344.50H1169.6V342.50H1170.3V340.50H1170.9V338.50H1171.5V336.50H1172.1V334.50H1172.7V332.50H1173.3V330.50H1173.9V328.50H1174.6V326.50H1175.2V324.50H1175.8V322.50H1176.4V320.50H1177.0V318.50H1177.6V316.50H1178.2V314.50H1178.9V312.50H1179.5V310.50H1180.1V308.50H1180.7V306.50H1181.3V304.50H1181.9V302.50H1182.5V300.50H1183.1V298.50H1183.8V296.50H1184.5V294.50H1185.2V292.50H1186.0V290.50H1186.6V288.50H1187.4V286.50H1188.0V284.50H1188.8V282.50H1189.4V280.50H1190.2V278.50H1190.9V276.50H1191.6V274.50H1192.3V272.50H1193.0V270.50H1193.7V268.50H1194.3V266.50H1195.0V264.50H1195.7V262.50H1196.4V260.50H1197.1V258.50H1197.7V256.50H1198.4V254.50H1199.1V252.50H1199.8V250.50H1200.4V248.50H1201.1V246.50H1201.7V244.50H1202.2V242.50H1202.8V240.50H1203.3V238.50H1203.8V236.50H1204.4V234.50H1204.9V232.50H1205.5V230.50H1206.0V228.50H1206.5V226.50H1207.1V224.50H1207.6V222.50H1208.2V220.50H1208.7V218.50H1209.2V216.50H1209.8V214.50H1210.5V212.50H1211.2V210.50H1211.8V208.50H1212.5V206.50H1213.1V204.50H1213.8V202.50H1214.4V200.50H1215.1V198.50H1215.8V196.50H1216.5V194.50H1217.1V192.50H1217.8V190.50H1218.4V188.50H1219.1V186.50H1219.9V184.50H1220.7V182.50H1221.5V180.50H1222.4V178.50H1223.2V176.50H1224.1V174.50H1224.9V172.50H1225.7V170.50H1226.5V168.50H1227.4V166.50H1228.2V164.50H1229.1V162.50H1230.0V160.50H1231.0V158.50H1231.8V156.50H1232.8V154.50H1233.7V152.50H1234.7V150.50H1235.6V148.50H1236.5V146.50H1237.4V144.50H1238.2V142.50H1239.1V140.50H1239.9V138.50H1240.8V136.50H1242.1V134.50H1243.8V132.50H1245.4V130.50H1246.9V128.50H1248.6V126.50H1250.5V124.50H1252.5V122.50H1254.5V120.50H1256.5V118.50H1258.4V116.50H1260.7V114.50H1263.7V112.50H1266.7V110.50H1269.7V108.50H1273.0V106.50H1276.9V104.50H1280.7V102.50H1285.2V100.50H1286.0" fill="none" stroke="#ff0000" stroke-width="4.4" stroke-linejoin="round"/>
<path d="M1001.3 650.80H1028.9V648.80H1036.4V646.80H1038.7V644.80H1041.0V642.80H1043.4V640.80H1045.6V638.80H1047.9V636.80H1050.2V634.80H1052.4V632.80H1054.6V630.80H1056.6V628.80H1058.6V626.80H1060.6V624.80H1062.6V622.80H1064.6V620.80H1068.9V618.80H1073.7V616.80H1077.5V614.80H1079.0V612.80H1080.6V610.80H1082.2V608.80H1083.8V606.80H1085.5V604.80H1087.2V602.80H1088.9V600.80H1090.6V598.80H1092.3V596.80H1094.2V594.80H1095.9V592.80H1097.6V590.80H1099.3V588.80H1101.1V586.80H1102.8V584.80H1103.9V582.80H1105.2V580.80H1106.3V578.80H1107.6V576.80H1108.8V574.80H1109.9V572.80H1111.2V570.80H1112.3V568.80H1113.6V566.80H1114.8V564.80H1115.9V562.80H1117.2V560.80H1118.0V558.80H1118.7V556.80H1119.3V554.80H1119.9V552.80H1120.6V550.80H1121.2V548.80H1121.9V546.80H1122.5V544.80H1123.2V542.80H1123.8V540.80H1124.5V538.80H1125.1V536.80H1125.8V534.80H1126.4V532.80H1127.1V530.80H1127.7V528.80H1128.4V526.80H1129.1V524.80H1129.8V522.80H1130.4V520.80H1131.1V518.80H1131.8V516.80H1132.5V514.80H1133.2V512.80H1133.8V510.80H1134.6V508.80H1135.2V506.80H1136.0V504.80H1136.7V502.80H1137.5V500.80H1138.4V498.80H1139.1V496.80H1139.9V494.80H1140.4V492.80H1141.0V490.80H1141.5V488.80H1142.0V486.80H1142.6V484.80H1143.1V482.80H1143.6V480.80H1144.2V478.80H1144.7V476.80H1145.2V474.80H1145.8V472.80H1146.3V470.80H1146.9V468.80H1147.4V466.80H1147.9V464.80H1148.6V462.80H1149.4V460.80H1150.2V458.80H1151.0V456.80H1151.8V454.80H1152.6V452.80H1153.4V450.80H1153.8V448.80H1154.1V446.80H1154.5V444.80H1154.8V442.80H1155.2V440.80H1155.6V438.80H1155.9V436.80H1156.3V434.80H1156.6V432.80H1157.0V430.80H1157.4V428.80H1157.7V426.80H1158.1V424.80H1158.4V422.80H1159.0V420.80H1159.6V418.80H1160.3V416.80H1161.0V414.80H1161.7V412.80H1162.3V410.80H1163.0V408.80H1163.6V406.80H1164.3V404.80H1165.0V402.80H1165.7V400.80H1166.3V398.80H1167.0V396.80H1169.4V394.80H1169.9V392.80H1170.4V390.80H1171.0V388.80H1171.6V386.80H1172.1V384.80H1172.7V382.80H1173.2V380.80H1173.8V378.80H1174.3V376.80H1174.9V374.80H1175.5V372.80H1176.0V370.80H1176.5V368.80H1177.1V366.80H1177.7V364.80H1178.4V362.80H1179.1V360.80H1179.8V358.80H1180.5V356.80H1181.2V354.80H1181.9V352.80H1182.6V350.80H1183.3V348.80H1184.0V346.80H1184.7V344.80H1185.4V342.80H1186.0V340.80H1186.4V338.80H1186.9V336.80H1187.3V334.80H1187.7V332.80H1188.2V330.80H1188.7V328.80H1189.1V326.80H1189.6V324.80H1190.0V322.80H1190.5V320.80H1190.9V318.80H1191.4V316.80H1191.8V314.80H1192.3V312.80H1192.8V310.80H1193.3V308.80H1193.8V306.80H1194.4V304.80H1194.9V302.80H1195.4V300.80H1195.8V298.80H1196.4V296.80H1196.9V294.80H1197.4V292.80H1197.9V290.80H1198.4V288.80H1198.9V286.80H1199.5V284.80H1200.2V282.80H1200.8V280.80H1201.4V278.80H1202.0V276.80H1202.7V274.80H1203.3V272.80H1203.9V270.80H1204.6V268.80H1205.2V266.80H1205.8V264.80H1206.5V262.80H1207.1V260.80H1207.7V258.80H1208.3V256.80H1208.9V254.80H1209.5V252.80H1210.1V250.80H1210.7V248.80H1211.2V246.80H1211.9V244.80H1212.4V242.80H1213.1V240.80H1213.6V238.80H1214.2V236.80H1214.9V234.80H1215.4V232.80H1216.1V230.80H1216.7V228.80H1217.4V226.80H1218.0V224.80H1218.7V222.80H1219.4V220.80H1220.1V218.80H1220.7V216.80H1221.4V214.80H1222.1V212.80H1222.8V210.80H1223.4V208.80H1224.1V206.80H1224.7V204.80H1225.5V202.80H1226.3V200.80H1227.0V198.80H1227.8V196.80H1228.6V194.80H1229.3V192.80H1230.1V190.80H1230.9V188.80H1231.7V186.80H1232.4V184.80H1233.2V182.80H1234.0V180.80H1234.7V178.80H1235.5V176.80H1236.4V174.80H1237.4V172.80H1238.4V170.80H1239.6V168.80H1240.6V166.80H1241.6V164.80H1242.8V162.80H1243.8V160.80H1244.8V158.80H1245.9V156.80H1247.0V154.80H1248.0V152.80H1249.1V150.80H1250.2V148.80H1251.2V146.80H1252.2V144.80H1253.3V142.80H1254.4V140.80H1255.4V138.80H1256.4V136.80H1257.5V134.80H1258.5V132.80H1259.6V130.80H1260.6V128.80H1261.7V126.80H1262.7V124.80H1263.8V122.80H1265.3V120.80H1266.9V118.80H1268.6V116.80H1270.3V114.80H1271.9V112.80H1273.6V110.80H1275.3V108.80H1277.3V106.80H1279.5V104.80H1281.6V102.80H1284.4V100.80H1286.0" fill="none" stroke="#0000ff" stroke-width="4.4" stroke-linejoin="round" stroke-dasharray="4.5 4.4"/>
<circle cx="1075.5" cy="616.2" r="8.1" fill="none" stroke="#0000ff" stroke-width="5.9"/>
<circle cx="1117.6" cy="561.2" r="8.1" fill="none" stroke="#0000ff" stroke-width="5.9"/>
<circle cx="1135.6" cy="506.6" r="8.1" fill="none" stroke="#0000ff" stroke-width="5.9"/>
<circle cx="1153.4" cy="451.7" r="8.1" fill="none" stroke="#0000ff" stroke-width="5.9"/>
<circle cx="1169.2" cy="396.6" r="8.1" fill="none" stroke="#0000ff" stroke-width="5.9"/>
<circle cx="1185.7" cy="342.6" r="8.1" fill="none" stroke="#0000ff" stroke-width="5.9"/>
<circle cx="1199.5" cy="287.5" r="8.1" fill="none" stroke="#0000ff" stroke-width="5.9"/>
<circle cx="1215.5" cy="232.2" r="8.1" fill="none" stroke="#0000ff" stroke-width="5.9"/>
<circle cx="1236.5" cy="177.2" r="8.1" fill="none" stroke="#0000ff" stroke-width="5.9"/>
<circle cx="1263.5" cy="123.4" r="8.1" fill="none" stroke="#0000ff" stroke-width="5.9"/>
<path d="M905.0 650.50H932.8V648.50H969.9V646.50H979.7V644.50H989.3V642.50H998.9V640.50H1005.0V638.50H1009.6V636.50H1014.4V634.50H1019.2V632.50H1023.8V630.50H1027.7V628.50H1031.2V626.50H1034.7V624.50H1038.2V622.50H1041.7V620.50H1045.2V618.50H1048.0V616.50H1050.3V614.50H1052.7V612.50H1055.1V610.50H1057.5V608.50H1059.6V606.50H1061.8V604.50H1064.0V602.50H1065.9V600.50H1066.1V598.50H1066.3V596.50H1066.6V594.50H1066.8V592.50H1067.0V590.50H1067.2V588.50H1067.9V586.50H1069.2V584.50H1070.4V582.50H1071.7V580.50H1072.9V578.50H1074.2V576.50H1075.4V574.50H1076.7V572.50H1077.9V570.50H1079.2V568.50H1080.3V566.50H1081.6V564.50H1082.7V562.50H1083.9V560.50H1085.2V558.50H1086.3V556.50H1087.5V554.50H1088.8V552.50H1089.9V550.50H1091.1V548.50H1092.4V546.50H1093.5V544.50H1094.6V542.50H1095.6V540.50H1096.6V538.50H1097.6V536.50H1098.6V534.50H1099.7V532.50H1100.7V530.50H1101.7V528.50H1102.7V526.50H1103.8V524.50H1104.8V522.50H1105.8V520.50H1106.7V518.50H1107.7V516.50H1108.7V514.50H1109.6V512.50H1110.6V510.50H1111.6V508.50H1112.6V506.50H1113.5V504.50H1114.5V502.50H1115.6V500.50H1116.5V498.50H1117.4V496.50H1118.3V494.50H1119.2V492.50H1120.0V490.50H1120.5V488.50H1120.9V486.50H1121.4V484.50H1121.9V482.50H1122.3V480.50H1122.8V478.50H1123.3V476.50H1123.8V474.50H1124.2V472.50H1124.7V470.50H1125.1V468.50H1125.6V466.50H1126.1V464.50H1126.5V462.50H1127.0V460.50H1127.7V458.50H1128.5V456.50H1129.2V454.50H1130.1V452.50H1130.9V450.50H1131.7V448.50H1132.6V446.50H1133.3V444.50H1134.2V442.50H1135.0V440.50H1135.8V438.50H1136.7V436.50H1137.3V434.50H1137.9V432.50H1138.6V430.50H1139.2V428.50H1139.9V426.50H1140.5V424.50H1141.2V422.50H1141.8V420.50H1142.4V418.50H1143.1V416.50H1143.7V414.50H1144.3V412.50H1144.9V410.50H1145.5V408.50H1146.1V406.50H1146.7V404.50H1147.4V402.50H1147.9V400.50H1148.5V398.50H1149.1V396.50H1149.7V394.50H1150.4V392.50H1151.4V390.50H1152.5V388.50H1153.5V386.50H1154.7V384.50H1155.7V382.50H1156.7V380.50H1157.3V378.50H1158.0V376.50H1158.6V374.50H1159.2V372.50H1159.8V370.50H1160.5V368.50H1161.1V366.50H1161.8V364.50H1162.4V362.50H1163.0V360.50H1163.6V358.50H1164.3V356.50H1164.9V354.50H1165.5V352.50H1166.2V350.50H1166.8V348.50H1167.5V346.50H1168.1V344.50H1168.7V342.50H1169.3V340.50H1170.0V338.50H1170.6V336.50H1171.3V334.50H1171.9V332.50H1172.5V330.50H1173.1V328.50H1173.7V326.50H1174.4V324.50H1175.0V322.50H1175.6V320.50H1176.2V318.50H1176.7V316.50H1177.4V314.50H1178.0V312.50H1178.6V310.50H1179.2V308.50H1179.7V306.50H1180.4V304.50H1181.0V302.50H1181.6V300.50H1182.2V298.50H1182.9V296.50H1183.5V294.50H1184.1V292.50H1184.8V290.50H1185.4V288.50H1186.0V286.50H1186.6V284.50H1187.3V282.50H1187.9V280.50H1188.6V278.50H1189.2V276.50H1189.9V274.50H1190.5V272.50H1191.1V270.50H1191.7V268.50H1192.3V266.50H1192.9V264.50H1193.5V262.50H1194.1V260.50H1194.7V258.50H1195.3V256.50H1195.9V254.50H1196.5V252.50H1197.1V250.50H1197.7V248.50H1198.3V246.50H1198.9V244.50H1199.5V242.50H1200.2V240.50H1200.9V238.50H1201.6V236.50H1202.2V234.50H1202.9V232.50H1203.5V230.50H1204.3V228.50H1204.9V226.50H1205.6V224.50H1206.2V222.50H1206.9V220.50H1207.6V218.50H1208.2V216.50H1208.8V214.50H1209.4V212.50H1210.0V210.50H1210.6V208.50H1211.2V206.50H1211.8V204.50H1212.4V202.50H1213.0V200.50H1213.6V198.50H1214.2V196.50H1214.8V194.50H1215.4V192.50H1216.0V190.50H1216.6V188.50H1217.2V186.50H1218.1V184.50H1219.0V182.50H1219.9V180.50H1220.8V178.50H1221.7V176.50H1222.6V174.50H1223.4V172.50H1224.2V170.50H1225.1V168.50H1226.0V166.50H1226.9V164.50H1227.8V162.50H1228.7V160.50H1229.7V158.50H1230.7V156.50H1231.7V154.50H1232.8V152.50H1233.8V150.50H1234.8V148.50H1235.7V146.50H1236.5V144.50H1237.3V142.50H1238.2V140.50H1239.0V138.50H1239.8V136.50H1241.2V134.50H1242.9V132.50H1244.5V130.50H1246.1V128.50H1247.6V126.50H1249.8V124.50H1251.9V122.50H1254.1V120.50H1256.3V118.50H1258.4V116.50H1260.8V114.50H1263.6V112.50H1266.3V110.50H1268.9V108.50H1271.9V106.50H1275.9V104.50H1280.1V102.50H1285.0V100.50H1286.0" fill="none" stroke="#ff0000" stroke-width="4.4" stroke-linejoin="round" stroke-dasharray="4.5 4.4"/>
<circle cx="1066.0" cy="602.0" r="8.1" fill="none" stroke="#ff0000" stroke-width="5.9"/>
<circle cx="1093.5" cy="545.6" r="8.1" fill="none" stroke="#ff0000" stroke-width="5.9"/>
<circle cx="1119.6" cy="492.0" r="8.1" fill="none" stroke="#ff0000" stroke-width="5.9"/>
<circle cx="1136.4" cy="437.3" r="8.1" fill="none" stroke="#ff0000" stroke-width="5.9"/>
<circle cx="1156.3" cy="382.0" r="8.1" fill="none" stroke="#ff0000" stroke-width="5.9"/>
<circle cx="1174.0" cy="327.0" r="8.1" fill="none" stroke="#ff0000" stroke-width="5.9"/>
<circle cx="1191.0" cy="272.6" r="8.1" fill="none" stroke="#ff0000" stroke-width="5.9"/>
<circle cx="1208.5" cy="217.6" r="8.1" fill="none" stroke="#ff0000" stroke-width="5.9"/>
<circle cx="1229.0" cy="162.6" r="8.1" fill="none" stroke="#ff0000" stroke-width="5.9"/>
<circle cx="1271.3" cy="107.4" r="8.1" fill="none" stroke="#ff0000" stroke-width="5.9"/>
<path d="M795.4 650.50H796.8V648.50H799.4V646.50H802.1V644.50H804.6V642.50H807.4V640.50H810.7V638.50H813.9V636.50H817.0V634.50H820.9V632.50H825.5V630.50H830.4V628.50H835.2V626.50H839.1V624.50H841.8V622.50H844.4V620.50H847.2V618.50H849.8V616.50H852.5V614.50H855.0V612.50H857.8V610.50H860.3V608.50H862.9V606.50H865.1V604.50H867.1V602.50H869.1V600.50H871.1V598.50H872.9V596.50H874.6V594.50H876.1V592.50H877.7V590.50H879.7V588.50H882.0V586.50H884.5V584.50H886.9V582.50H889.2V580.50H891.4V578.50H893.7V576.50H896.1V574.50H898.3V572.50H900.6V570.50H902.6V568.50H904.6V566.50H906.6V564.50H908.6V562.50H910.6V560.50H913.4V558.50H917.6V556.50H921.3V554.50H922.9V552.50H924.4V550.50H926.0V548.50H929.3V546.50H934.8V544.50H936.1V542.50H937.4V540.50H938.8V538.50H940.1V536.50H941.5V534.50H942.8V532.50H944.1V530.50H945.5V528.50H947.3V526.50H949.3V524.50H951.2V522.50H953.2V520.50H955.2V518.50H957.2V516.50H959.2V514.50H961.0V512.50H962.7V510.50H964.4V508.50H966.1V506.50H967.8V504.50H969.3V502.50H970.5V500.50H971.8V498.50H972.9V496.50H974.2V494.50H975.4V492.50H976.5V490.50H977.8V488.50H979.0V486.50H980.2V484.50H981.4V482.50H982.5V480.50H983.8V478.50H985.0V476.50H986.1V474.50H987.4V472.50H988.6V470.50H989.7V468.50H991.0V466.50H992.2V464.50H993.6V462.50H995.3V460.50H997.0V458.50H998.9V456.50H1000.6V454.50H1002.4V452.50H1004.1V450.50H1005.9V448.50H1007.3V446.50H1008.6V444.50H1009.8V442.50H1011.1V440.50H1012.2V438.50H1013.5V436.50H1014.8V434.50H1016.0V432.50H1017.1V430.50H1018.1V428.50H1019.1V426.50H1020.1V424.50H1021.1V422.50H1022.1V420.50H1023.0V418.50H1023.9V416.50H1024.7V414.50H1025.6V412.50H1026.5V410.50H1027.3V408.50H1028.1V406.50H1029.3V404.50H1030.3V402.50H1031.4V400.50H1032.4V398.50H1033.6V396.50H1034.9V394.50H1036.1V392.50H1037.1V390.50H1038.1V388.50H1039.1V386.50H1040.1V384.50H1041.1V382.50H1042.2V380.50H1043.2V378.50H1044.1V376.50H1045.0V374.50H1045.8V372.50H1046.7V370.50H1047.5V368.50H1048.4V366.50H1049.3V364.50H1050.2V362.50H1050.9V360.50H1051.8V358.50H1052.7V356.50H1053.6V354.50H1054.4V352.50H1055.3V350.50H1056.2V348.50H1057.2V346.50H1058.2V344.50H1059.2V342.50H1060.2V340.50H1061.2V338.50H1062.2V336.50H1063.2V334.50H1064.2V332.50H1065.2V330.50H1066.2V328.50H1067.2V326.50H1068.3V324.50H1069.2V322.50H1070.2V320.50H1071.2V318.50H1072.2V316.50H1073.3V314.50H1074.3V312.50H1075.3V310.50H1076.3V308.50H1077.5V306.50H1078.6V304.50H1079.8V302.50H1080.9V300.50H1082.1V298.50H1083.2V296.50H1084.3V294.50H1085.4V292.50H1086.5V290.50H1087.7V288.50H1088.8V286.50H1090.0V284.50H1091.1V282.50H1092.1V280.50H1093.0V278.50H1093.9V276.50H1094.8V274.50H1095.7V272.50H1096.6V270.50H1097.5V268.50H1098.4V266.50H1099.3V264.50H1100.1V262.50H1101.0V260.50H1101.9V258.50H1102.8V256.50H1103.7V254.50H1104.6V252.50H1105.5V250.50H1106.4V248.50H1107.3V246.50H1108.2V244.50H1109.2V242.50H1110.2V240.50H1111.2V238.50H1112.2V236.50H1113.2V234.50H1114.3V232.50H1115.2V230.50H1116.2V228.50H1117.2V226.50H1118.2V224.50H1119.2V222.50H1120.3V220.50H1121.3V218.50H1122.3V216.50H1123.2V214.50H1124.3V212.50H1125.5V210.50H1126.6V208.50H1127.8V206.50H1128.9V204.50H1130.1V202.50H1131.2V200.50H1132.3V198.50H1133.4V196.50H1134.6V194.50H1135.7V192.50H1136.9V190.50H1138.0V188.50H1139.1V186.50H1140.4V184.50H1141.7V182.50H1143.1V180.50H1144.4V178.50H1145.7V176.50H1147.1V174.50H1148.4V172.50H1149.7V170.50H1151.1V168.50H1152.4V166.50H1153.7V164.50H1155.1V162.50H1156.9V160.50H1158.9V158.50H1160.9V156.50H1162.9V154.50H1164.9V152.50H1166.9V150.50H1168.9V148.50H1170.9V146.50H1172.9V144.50H1174.8V142.50H1176.8V140.50H1178.8V138.50H1181.3V136.50H1183.8V134.50H1186.3V132.50H1188.8V130.50H1191.3V128.50H1193.8V126.50H1196.3V124.50H1198.8V122.50H1201.5V120.50H1204.3V118.50H1207.3V116.50H1210.1V114.50H1212.9V112.50H1215.8V110.50H1218.6V108.50H1224.7V106.50H1231.7V104.50H1238.8V102.50H1271.4V100.50H1283.2" fill="none" stroke="#0000ff" stroke-width="4.4" stroke-linejoin="round" stroke-dasharray="18 4.3 9 4.3"/>
<path d="M789.9 651.00H790.1V649.00H790.4V647.00H790.7V645.00H791.0V643.00H791.4V641.00H791.6V639.00H792.0V637.00H792.3V635.00H792.9V633.00H793.5V631.00H794.1V629.00H794.8V627.00H795.4V625.00H796.0V623.00H796.8V621.00H797.8V619.00H798.8V617.00H799.8V615.00H800.9V613.00H801.9V611.00H803.4V609.00H805.0V607.00H806.4V605.00H808.0V603.00H809.4V601.00H811.0V599.00H813.6V597.00H816.4V595.00H819.1V593.00H821.9V591.00H824.0V589.00H826.0V587.00H828.0V585.00H830.0V583.00H832.0V581.00H834.2V579.00H836.7V577.00H839.3V575.00H841.6V573.00H844.1V571.00H846.5V569.00H848.9V567.00H851.8V565.00H855.1V563.00H858.8V561.00H862.0V559.00H864.5V557.00H866.9V555.00H869.4V553.00H871.8V551.00H874.3V549.00H876.6V547.00H879.0V545.00H881.0V543.00H883.0V541.00H884.9V539.00H886.8V537.00H888.5V535.00H890.3V533.00H892.1V531.00H893.8V529.00H895.5V527.00H897.4V525.00H899.1V523.00H900.8V521.00H902.4V519.00H904.0V517.00H905.5V515.00H907.2V513.00H908.8V511.00H910.4V509.00H912.1V507.00H913.6V505.00H915.2V503.00H916.8V501.00H918.5V499.00H920.0V497.00H921.6V495.00H923.8V493.00H926.8V491.00H929.8V489.00H931.8V487.00H933.5V485.00H935.4V483.00H937.3V481.00H939.1V479.00H941.0V477.00H942.8V475.00H944.7V473.00H946.6V471.00H948.4V469.00H950.3V467.00H952.3V465.00H954.1V463.00H956.0V461.00H957.9V459.00H959.9V457.00H961.9V455.00H963.9V453.00H965.9V451.00H968.0V449.00H969.8V447.00H971.5V445.00H973.2V443.00H975.1V441.00H976.8V439.00H978.5V437.00H980.2V435.00H982.0V433.00H984.0V431.00H986.0V429.00H988.0V427.00H989.9V425.00H991.9V423.00H993.9V421.00H995.9V419.00H997.6V417.00H999.3V415.00H1000.8V413.00H1002.4V411.00H1003.8V409.00H1005.4V407.00H1006.8V405.00H1008.4V403.00H1009.8V401.00H1011.4V399.00H1012.8V397.00H1014.4V395.00H1016.0V393.00H1017.5V391.00H1019.1V389.00H1020.7V387.00H1022.2V385.00H1023.8V383.00H1025.4V381.00H1026.8V379.00H1028.1V377.00H1029.1V375.00H1030.3V373.00H1031.4V371.00H1032.5V369.00H1033.6V367.00H1034.8V365.00H1035.9V363.00H1037.0V361.00H1038.1V359.00H1039.5V357.00H1040.8V355.00H1042.2V353.00H1043.5V351.00H1044.8V349.00H1046.2V347.00H1047.5V345.00H1048.9V343.00H1050.2V341.00H1051.0V339.00H1051.7V337.00H1052.4V335.00H1053.1V333.00H1053.9V331.00H1054.6V329.00H1055.3V327.00H1056.1V325.00H1056.8V323.00H1057.5V321.00H1058.3V319.00H1059.1V317.00H1060.1V315.00H1061.1V313.00H1062.1V311.00H1063.1V309.00H1064.1V307.00H1065.1V305.00H1066.1V303.00H1067.1V301.00H1068.1V299.00H1069.1V297.00H1070.9V295.00H1072.9V293.00H1074.9V291.00H1076.9V289.00H1078.9V287.00H1080.3V285.00H1081.5V283.00H1082.6V281.00H1083.8V279.00H1084.9V277.00H1086.1V275.00H1087.2V273.00H1088.4V271.00H1089.3V269.00H1090.3V267.00H1091.3V265.00H1092.3V263.00H1093.3V261.00H1094.3V259.00H1095.5V257.00H1096.7V255.00H1097.9V253.00H1099.1V251.00H1100.3V249.00H1101.4V247.00H1102.6V245.00H1103.8V243.00H1105.0V241.00H1106.2V239.00H1107.3V237.00H1108.5V235.00H1109.7V233.00H1110.9V231.00H1112.0V229.00H1113.0V227.00H1114.0V225.00H1115.0V223.00H1116.0V221.00H1117.0V219.00H1118.0V217.00H1119.1V215.00H1120.0V213.00H1121.0V211.00H1122.0V209.00H1123.0V207.00H1124.0V205.00H1125.0V203.00H1126.1V201.00H1127.1V199.00H1128.2V197.00H1129.7V195.00H1131.1V193.00H1132.5V191.00H1133.9V189.00H1135.3V187.00H1136.8V185.00H1138.2V183.00H1139.6V181.00H1141.0V179.00H1142.5V177.00H1143.9V175.00H1145.3V173.00H1146.7V171.00H1148.3V169.00H1150.0V167.00H1151.7V165.00H1153.5V163.00H1155.3V161.00H1157.0V159.00H1158.7V157.00H1160.5V155.00H1162.3V153.00H1164.0V151.00H1165.7V149.00H1167.5V147.00H1169.3V145.00H1171.0V143.00H1172.8V141.00H1174.5V139.00H1176.7V137.00H1179.2V135.00H1181.7V133.00H1184.2V131.00H1186.7V129.00H1189.2V127.00H1191.7V125.00H1194.2V123.00H1196.7V121.00H1199.2V119.00H1201.7V117.00H1204.2V115.00H1206.7V113.00H1209.2V111.00H1211.7V109.00H1214.2V107.00H1220.4V105.00H1230.4V103.00H1245.7V101.00H1271.2" fill="none" stroke="#ff0000" stroke-width="4.4" stroke-linejoin="round" stroke-dasharray="18 4.3 9 4.3"/>
<path d="M800.0 651.00H800.9V649.00H802.3V647.00H803.8V645.00H806.9V643.00H811.3V641.00H815.9V639.00H820.3V637.00H824.9V635.00H827.4V633.00H829.6V631.00H831.9V629.00H834.1V627.00H836.2V625.00H838.5V623.00H840.7V621.00H843.7V619.00H846.9V617.00H849.9V615.00H853.1V613.00H856.2V611.00H864.6V609.00H874.5V607.00H878.3V605.00H881.8V603.00H885.5V601.00H889.2V599.00H892.5V597.00H895.2V595.00H898.0V593.00H900.7V591.00H903.5V589.00H905.7V587.00H908.0V585.00H910.1V583.00H912.4V581.00H914.6V579.00H916.9V577.00H918.8V575.00H920.6V573.00H922.6V571.00H924.5V569.00H926.3V567.00H928.3V565.00H930.2V563.00H931.5V561.00H932.7V559.00H933.8V557.00H935.1V555.00H936.8V553.00H938.5V551.00H940.2V549.00H941.9V547.00H943.6V545.00H944.8V543.00H945.4V541.00H946.0V539.00H946.6V537.00H947.4V535.00H949.0V533.00H950.7V531.00H952.4V529.00H954.0V527.00H955.7V525.00H957.3V523.00H958.9V521.00H960.7V519.00H962.7V517.00H964.7V515.00H966.7V513.00H968.6V511.00H970.6V509.00H972.6V507.00H974.6V505.00H976.7V503.00H978.4V501.00H980.1V499.00H981.7V497.00H983.2V495.00H984.9V493.00H986.5V491.00H988.2V489.00H989.8V487.00H991.5V485.00H993.1V483.00H994.7V481.00H996.2V479.00H997.9V477.00H999.5V475.00H1001.0V473.00H1002.6V471.00H1004.2V469.00H1005.7V467.00H1007.4V465.00H1008.8V463.00H1010.2V461.00H1011.5V459.00H1012.8V457.00H1014.2V455.00H1015.5V453.00H1016.6V451.00H1017.5V449.00H1018.4V447.00H1019.2V445.00H1020.1V443.00H1021.0V441.00H1021.7V439.00H1022.6V437.00H1023.4V435.00H1024.2V433.00H1024.9V431.00H1025.7V429.00H1026.5V427.00H1027.3V425.00H1028.0V423.00H1028.9V421.00H1029.7V419.00H1030.6V417.00H1031.3V415.00H1032.2V413.00H1033.0V411.00H1033.9V409.00H1034.7V407.00H1035.5V405.00H1036.4V403.00H1037.2V401.00H1038.1V399.00H1039.0V397.00H1039.8V395.00H1040.6V393.00H1041.4V391.00H1042.1V389.00H1042.8V387.00H1043.6V385.00H1044.3V383.00H1045.1V381.00H1045.8V379.00H1046.6V377.00H1047.3V375.00H1048.1V373.00H1048.8V371.00H1049.7V369.00H1050.6V367.00H1051.5V365.00H1052.4V363.00H1053.3V361.00H1054.1V359.00H1055.0V357.00H1055.8V355.00H1056.7V353.00H1057.6V351.00H1058.5V349.00H1059.4V347.00H1060.3V345.00H1061.2V343.00H1062.1V341.00H1063.0V339.00H1064.0V337.00H1065.0V335.00H1065.9V333.00H1066.9V331.00H1067.8V329.00H1068.8V327.00H1069.8V325.00H1070.7V323.00H1071.7V321.00H1072.7V319.00H1073.7V317.00H1074.7V315.00H1075.6V313.00H1076.5V311.00H1077.5V309.00H1078.4V307.00H1079.3V305.00H1080.2V303.00H1081.1V301.00H1082.0V299.00H1082.9V297.00H1083.9V295.00H1084.8V293.00H1085.7V291.00H1086.7V289.00H1087.6V287.00H1088.6V285.00H1089.6V283.00H1090.7V281.00H1091.7V279.00H1092.7V277.00H1093.7V275.00H1094.7V273.00H1095.8V271.00H1096.8V269.00H1097.8V267.00H1098.8V265.00H1099.9V263.00H1101.0V261.00H1102.0V259.00H1103.0V257.00H1104.2V255.00H1105.2V253.00H1106.3V251.00H1107.4V249.00H1108.4V247.00H1109.5V245.00H1110.6V243.00H1111.7V241.00H1112.7V239.00H1113.9V237.00H1114.9V235.00H1116.0V233.00H1117.0V231.00H1118.2V229.00H1119.5V227.00H1120.6V225.00H1121.9V223.00H1123.1V221.00H1124.3V219.00H1125.5V217.00H1126.8V215.00H1127.9V213.00H1129.1V211.00H1130.4V209.00H1131.5V207.00H1132.8V205.00H1133.9V203.00H1134.9V201.00H1135.9V199.00H1136.9V197.00H1137.9V195.00H1138.9V193.00H1139.9V191.00H1141.0V189.00H1142.0V187.00H1143.0V185.00H1144.0V183.00H1145.0V181.00H1146.0V179.00H1147.1V177.00H1148.1V175.00H1149.1V173.00H1150.1V171.00H1151.2V169.00H1152.3V167.00H1153.3V165.00H1154.3V163.00H1155.4V161.00H1156.4V159.00H1157.4V157.00H1158.5V155.00H1159.6V153.00H1160.6V151.00H1161.7V149.00H1164.1V147.00H1166.6V145.00H1169.1V143.00H1171.4V141.00H1173.9V139.00H1176.4V137.00H1178.9V135.00H1181.2V133.00H1183.7V131.00H1186.2V129.00H1188.9V127.00H1191.9V125.00H1194.9V123.00H1197.9V121.00H1200.9V119.00H1203.9V117.00H1207.0V115.00H1210.0V113.00H1214.6V111.00H1221.1V109.00H1227.4V107.00H1233.7V105.00H1240.2V103.00H1252.8V101.00H1260.0" fill="none" stroke="#0000ff" stroke-width="4.4" stroke-linejoin="round" stroke-dasharray="18 4.3"/>
<path d="M796.4 645.0H812.6M804.5 636.9V653.1" stroke="#0000ff" stroke-width="4.6" fill="none"/>
<path d="M894.9 590.3H911.1M903.0 582.2V598.4" stroke="#0000ff" stroke-width="4.6" fill="none"/>
<path d="M938.9 536.4H955.1M947.0 528.3V544.5" stroke="#0000ff" stroke-width="4.6" fill="none"/>
<path d="M987.9 480.6H1004.1M996.0 472.5V488.7" stroke="#0000ff" stroke-width="4.6" fill="none"/>
<path d="M1019.1 426.0H1035.3M1027.2 417.9V434.1" stroke="#0000ff" stroke-width="4.6" fill="none"/>
<path d="M1040.2 371.2H1056.4M1048.3 363.1V379.3" stroke="#0000ff" stroke-width="4.6" fill="none"/>
<path d="M1067.6 313.7H1083.8M1075.7 305.6V321.8" stroke="#0000ff" stroke-width="4.6" fill="none"/>
<path d="M1093.5 260.6H1109.7M1101.6 252.5V268.7" stroke="#0000ff" stroke-width="4.6" fill="none"/>
<path d="M1125.4 204.7H1141.6M1133.5 196.6V212.8" stroke="#0000ff" stroke-width="4.6" fill="none"/>
<path d="M1153.4 150.1H1169.6M1161.5 142.0V158.2" stroke="#0000ff" stroke-width="4.6" fill="none"/>
<path d="M850.4 566.70H852.8V564.70H857.5V562.70H862.8V560.70H870.8V558.70H878.6V556.70H886.4V554.70H894.1V552.70H897.5V550.70H899.7V548.70H902.0V546.70H904.2V544.70H906.1V542.70H907.4V540.70H908.8V538.70H910.2V536.70H911.5V534.70H912.9V532.70H915.2V530.70H921.3V528.70H927.4V526.70H932.4V524.70H935.4V522.70H938.4V520.70H941.3V518.70H944.2V516.70H947.2V514.70H950.2V512.70H953.3V510.70H954.8V508.70H956.0V506.70H957.3V504.70H958.5V502.70H959.8V500.70H961.1V498.70H962.3V496.70H964.5V494.70H966.5V492.70H968.6V490.70H970.7V488.70H972.7V486.70H974.8V484.70H976.9V482.70H978.9V480.70H980.9V478.70H983.1V476.70H985.1V474.70H987.1V472.70H989.2V470.70H991.3V468.70H993.4V466.70H995.3V464.70H997.0V462.70H998.5V460.70H1000.2V458.70H1001.9V456.70H1003.6V454.70H1005.2V452.70H1006.5V450.70H1007.7V448.70H1009.1V446.70H1010.4V444.70H1011.8V442.70H1012.7V440.70H1013.5V438.70H1014.4V436.70H1015.1V434.70H1016.0V432.70H1016.8V430.70H1017.6V428.70H1018.4V426.70H1019.2V424.70H1020.1V422.70H1021.1V420.70H1022.3V418.70H1023.4V416.70H1024.6V414.70H1025.7V412.70H1026.9V410.70H1028.0V408.70H1029.0V406.70H1030.0V404.70H1031.1V402.70H1032.1V400.70H1033.0V398.70H1034.0V396.70H1035.0V394.70H1036.0V392.70H1037.1V390.70H1038.1V388.70H1039.2V386.70H1039.9V384.70H1040.6V382.70H1041.3V380.70H1042.0V378.70H1042.6V376.70H1043.4V374.70H1044.1V372.70H1045.3V370.70H1046.4V368.70H1047.6V366.70H1048.8V364.70H1050.0V362.70H1051.2V360.70H1052.3V358.70H1053.5V356.70H1054.6V354.70H1055.8V352.70H1057.0V350.70H1058.2V348.70H1059.4V346.70H1060.5V344.70H1061.8V342.70H1063.0V340.70H1064.1V338.70H1065.3V336.70H1066.5V334.70H1067.7V332.70H1068.9V330.70H1070.1V328.70H1071.3V326.70H1072.6V324.70H1073.7V322.70H1075.0V320.70H1076.2V318.70H1077.3V316.70H1078.6V314.70H1079.8V312.70H1081.0V310.70H1082.2V308.70H1083.4V306.70H1084.6V304.70H1086.1V302.70H1087.5V300.70H1088.9V298.70H1090.5V296.70H1091.9V294.70H1093.3V292.70H1094.9V290.70H1096.3V288.70H1097.7V286.70H1099.3V284.70H1100.7V282.70H1102.1V280.70H1103.7V278.70H1104.8V276.70H1105.5V274.70H1106.3V272.70H1107.1V270.70H1107.8V268.70H1108.6V266.70H1109.3V264.70H1110.1V262.70H1110.9V260.70H1111.6V258.70H1112.4V256.70H1113.2V254.70H1114.5V252.70H1116.0V250.70H1117.6V248.70H1119.3V246.70H1120.9V244.70H1122.3V242.70H1123.6V240.70H1124.9V238.70H1126.1V236.70H1127.4V234.70H1128.6V232.70H1129.9V230.70H1131.1V228.70H1132.4V226.70H1133.7V224.70H1135.0V222.70H1136.3V220.70H1137.7V218.70H1139.1V216.70H1140.7V214.70H1142.1V212.70H1143.5V210.70H1144.9V208.70H1146.4V206.70H1147.9V204.70H1149.8V202.70H1151.5V200.70H1153.2V198.70H1155.1V196.70H1156.8V194.70H1158.5V192.70H1160.4V190.70H1162.1V188.70H1163.8V186.70H1165.1V184.70H1166.3V182.70H1167.5V180.70H1168.8V178.70H1170.0V176.70H1171.2V174.70H1172.4V172.70H1173.7V170.70H1174.9V168.70H1176.4V166.70H1177.9V164.70H1179.6V162.70H1181.2V160.70H1182.9V158.70H1184.6V156.70H1186.1V154.70H1187.7V152.70H1189.3V150.70H1190.7V148.70H1192.1V146.70H1193.5V144.70H1194.9V142.70H1196.7V140.70H1198.7V138.70H1200.7V136.70H1202.6V134.70H1204.6V132.70H1206.6V130.70H1208.6V128.70H1210.6V126.70H1212.4V124.70H1214.1V122.70H1215.9V120.70H1217.6V118.70H1219.3V116.70H1221.1V114.70H1222.8V112.70H1226.2V110.70H1230.6V108.70H1234.9V106.70H1239.3V104.70H1244.9V102.70H1275.6V100.70H1283.2" fill="none" stroke="#ff0000" stroke-width="4.4" stroke-linejoin="round" stroke-dasharray="18 4.3"/>
<path d="M796.5 607.3H812.7M804.6 599.2V615.4" stroke="#ff0000" stroke-width="4.6" fill="none"/>
<path d="M887.5 553.3H903.7M895.6 545.2V561.4" stroke="#ff0000" stroke-width="4.6" fill="none"/>
<path d="M954.4 497.8H970.6M962.5 489.7V505.9" stroke="#ff0000" stroke-width="4.6" fill="none"/>
<path d="M1003.9 443.2H1020.1M1012.0 435.1V451.3" stroke="#ff0000" stroke-width="4.6" fill="none"/>
<path d="M1030.7 388.3H1046.9M1038.8 380.2V396.4" stroke="#ff0000" stroke-width="4.6" fill="none"/>
<path d="M1060.4 334.0H1076.6M1068.5 325.9V342.1" stroke="#ff0000" stroke-width="4.6" fill="none"/>
<path d="M1096.3 278.6H1112.5M1104.4 270.5V286.7" stroke="#ff0000" stroke-width="4.6" fill="none"/>
<path d="M1128.4 222.5H1144.6M1136.5 214.4V230.6" stroke="#ff0000" stroke-width="4.6" fill="none"/>
<path d="M1166.9 168.9H1183.1M1175.0 160.8V177.0" stroke="#ff0000" stroke-width="4.6" fill="none"/>
<path d="M1214.2 112.9H1230.4M1222.3 104.8V121.0" stroke="#ff0000" stroke-width="4.6" fill="none"/>
</g>
<rect x="115.40" y="101.20" width="510.60" height="549.80" fill="none" stroke="#262626" stroke-width="1.7"/>
<line x1="115.40" y1="651.00" x2="115.40" y2="644.50" stroke="#262626" stroke-width="1.7"/>
<line x1="115.40" y1="101.20" x2="115.40" y2="107.70" stroke="#262626" stroke-width="1.7"/>
<text x="115.40" y="697.1" text-anchor="middle" class="tk">28</text>
<line x1="285.60" y1="651.00" x2="285.60" y2="644.50" stroke="#262626" stroke-width="1.7"/>
<line x1="285.60" y1="101.20" x2="285.60" y2="107.70" stroke="#262626" stroke-width="1.7"/>
<text x="285.60" y="697.1" text-anchor="middle" class="tk">30</text>
<line x1="455.80" y1="651.00" x2="455.80" y2="644.50" stroke="#262626" stroke-width="1.7"/>
<line x1="455.80" y1="101.20" x2="455.80" y2="107.70" stroke="#262626" stroke-width="1.7"/>
<text x="455.80" y="697.1" text-anchor="middle" class="tk">32</text>
<line x1="626.00" y1="651.00" x2="626.00" y2="644.50" stroke="#262626" stroke-width="1.7"/>
<line x1="626.00" y1="101.20" x2="626.00" y2="107.70" stroke="#262626" stroke-width="1.7"/>
<text x="626.00" y="697.1" text-anchor="middle" class="tk">34</text>
<line x1="115.40" y1="651.00" x2="121.90" y2="651.00" stroke="#262626" stroke-width="1.7"/>
<line x1="626.00" y1="651.00" x2="619.50" y2="651.00" stroke="#262626" stroke-width="1.7"/>
<text x="103.30" y="664.80" text-anchor="end" class="tk">0</text>
<line x1="115.40" y1="541.04" x2="121.90" y2="541.04" stroke="#262626" stroke-width="1.7"/>
<line x1="626.00" y1="541.04" x2="619.50" y2="541.04" stroke="#262626" stroke-width="1.7"/>
<text x="103.30" y="554.84" text-anchor="end" class="tk">0.2</text>
<line x1="115.40" y1="431.08" x2="121.90" y2="431.08" stroke="#262626" stroke-width="1.7"/>
<line x1="626.00" y1="431.08" x2="619.50" y2="431.08" stroke="#262626" stroke-width="1.7"/>
<text x="103.30" y="444.88" text-anchor="end" class="tk">0.4</text>
<line x1="115.40" y1="321.12" x2="121.90" y2="321.12" stroke="#262626" stroke-width="1.7"/>
<line x1="626.00" y1="321.12" x2="619.50" y2="321.12" stroke="#262626" stroke-width="1.7"/>
<text x="103.30" y="334.92" text-anchor="end" class="tk">0.6</text>
<line x1="115.40" y1="211.16" x2="121.90" y2="211.16" stroke="#262626" stroke-width="1.7"/>
<line x1="626.00" y1="211.16" x2="619.50" y2="211.16" stroke="#262626" stroke-width="1.7"/>
<text x="103.30" y="224.96" text-anchor="end" class="tk">0.8</text>
<line x1="115.40" y1="101.20" x2="121.90" y2="101.20" stroke="#262626" stroke-width="1.7"/>
<line x1="626.00" y1="101.20" x2="619.50" y2="101.20" stroke="#262626" stroke-width="1.7"/>
<text x="103.30" y="115.00" text-anchor="end" class="tk">1</text>
<text x="370.70" y="88.8" text-anchor="middle" class="ttl">MF</text>
<text transform="translate(41.60 376.5) rotate(-90)" text-anchor="middle" class="lab">CDF</text>
<text x="298.40" y="746.8" class="lab"><tspan font-style="italic" font-size="42">G</tspan><tspan font-style="italic" font-size="33.5" dx="-1.5" dy="18.5">RF</tspan><tspan dx="1.5" dy="-18.5"> [dB]</tspan></text>
<rect x="773.70" y="101.20" width="512.50" height="549.80" fill="none" stroke="#262626" stroke-width="1.7"/>
<line x1="773.70" y1="651.00" x2="773.70" y2="644.50" stroke="#262626" stroke-width="1.7"/>
<line x1="773.70" y1="101.20" x2="773.70" y2="107.70" stroke="#262626" stroke-width="1.7"/>
<text x="773.70" y="697.1" text-anchor="middle" class="tk">28</text>
<line x1="944.53" y1="651.00" x2="944.53" y2="644.50" stroke="#262626" stroke-width="1.7"/>
<line x1="944.53" y1="101.20" x2="944.53" y2="107.70" stroke="#262626" stroke-width="1.7"/>
<text x="944.53" y="697.1" text-anchor="middle" class="tk">30</text>
<line x1="1115.37" y1="651.00" x2="1115.37" y2="644.50" stroke="#262626" stroke-width="1.7"/>
<line x1="1115.37" y1="101.20" x2="1115.37" y2="107.70" stroke="#262626" stroke-width="1.7"/>
<text x="1115.37" y="697.1" text-anchor="middle" class="tk">32</text>
<line x1="1286.20" y1="651.00" x2="1286.20" y2="644.50" stroke="#262626" stroke-width="1.7"/>
<line x1="1286.20" y1="101.20" x2="1286.20" y2="107.70" stroke="#262626" stroke-width="1.7"/>
<text x="1286.20" y="697.1" text-anchor="middle" class="tk">34</text>
<line x1="773.70" y1="651.00" x2="780.20" y2="651.00" stroke="#262626" stroke-width="1.7"/>
<line x1="1286.20" y1="651.00" x2="1279.70" y2="651.00" stroke="#262626" stroke-width="1.7"/>
<text x="761.60" y="664.80" text-anchor="end" class="tk">0</text>
<line x1="773.70" y1="541.04" x2="780.20" y2="541.04" stroke="#262626" stroke-width="1.7"/>
<line x1="1286.20" y1="541.04" x2="1279.70" y2="541.04" stroke="#262626" stroke-width="1.7"/>
<text x="761.60" y="554.84" text-anchor="end" class="tk">0.2</text>
<line x1="773.70" y1="431.08" x2="780.20" y2="431.08" stroke="#262626" stroke-width="1.7"/>
<line x1="1286.20" y1="431.08" x2="1279.70" y2="431.08" stroke="#262626" stroke-width="1.7"/>
<text x="761.60" y="444.88" text-anchor="end" class="tk">0.4</text>
<line x1="773.70" y1="321.12" x2="780.20" y2="321.12" stroke="#262626" stroke-width="1.7"/>
<line x1="1286.20" y1="321.12" x2="1279.70" y2="321.12" stroke="#262626" stroke-width="1.7"/>
<text x="761.60" y="334.92" text-anchor="end" class="tk">0.6</text>
<line x1="773.70" y1="211.16" x2="780.20" y2="211.16" stroke="#262626" stroke-width="1.7"/>
<line x1="1286.20" y1="211.16" x2="1279.70" y2="211.16" stroke="#262626" stroke-width="1.7"/>
<text x="761.60" y="224.96" text-anchor="end" class="tk">0.8</text>
<line x1="773.70" y1="101.20" x2="780.20" y2="101.20" stroke="#262626" stroke-width="1.7"/>
<line x1="1286.20" y1="101.20" x2="1279.70" y2="101.20" stroke="#262626" stroke-width="1.7"/>
<text x="761.60" y="115.00" text-anchor="end" class="tk">1</text>
<text x="1029.95" y="88.8" text-anchor="middle" class="ttl">ZF</text>
<text transform="translate(699.90 376.5) rotate(-90)" text-anchor="middle" class="lab">CDF</text>
<text x="956.70" y="746.8" class="lab"><tspan font-style="italic" font-size="42">G</tspan><tspan font-style="italic" font-size="33.5" dx="-1.5" dy="18.5">RF</tspan><tspan dx="1.5" dy="-18.5"> [dB]</tspan></text>
<rect x="1336.90" y="101.30" width="377.00" height="328.30" fill="#fff" stroke="#262626" stroke-width="1.8"/>
<line x1="1348.7" y1="126.2" x2="1409.3" y2="126.2" stroke="#0000ff" stroke-width="4.6"/>
<text x="1418.2" y="138.0" class="lg">Coll [1] [8,2] Mixed</text>
<line x1="1348.7" y1="166.1" x2="1409.3" y2="166.1" stroke="#ff0000" stroke-width="4.6"/>
<text x="1418.2" y="177.9" class="lg">Coll [1] [8,2] Open</text>
<line x1="1348.7" y1="206.0" x2="1406.7" y2="206.0" stroke="#0000ff" stroke-width="4.6" stroke-dasharray="4.5 4.4"/>
<circle cx="1379.0" cy="206.0" r="8.1" fill="none" stroke="#0000ff" stroke-width="5.9"/>
<text x="1418.2" y="217.8" class="lg">Coll [1] [16,1] Mixed</text>
<line x1="1348.7" y1="245.9" x2="1406.7" y2="245.9" stroke="#ff0000" stroke-width="4.6" stroke-dasharray="4.5 4.4"/>
<circle cx="1379.0" cy="245.9" r="8.1" fill="none" stroke="#ff0000" stroke-width="5.9"/>
<text x="1418.2" y="257.7" class="lg">Coll [1] [16,1] Open</text>
<line x1="1348.7" y1="285.8" x2="1409.3" y2="285.8" stroke="#0000ff" stroke-width="4.6" stroke-dasharray="18 4.3 9 4.3"/>
<text x="1418.2" y="297.6" class="lg">Dist [1] [8,2] Mixed</text>
<line x1="1348.7" y1="325.7" x2="1409.3" y2="325.7" stroke="#ff0000" stroke-width="4.6" stroke-dasharray="18 4.3 9 4.3"/>
<text x="1418.2" y="337.5" class="lg">Dist [1] [8,2] Open</text>
<line x1="1348.7" y1="365.6" x2="1366.8" y2="365.6" stroke="#0000ff" stroke-width="4.6"/>
<line x1="1370.9" y1="365.6" x2="1402.5" y2="365.6" stroke="#0000ff" stroke-width="4.6"/>
<path d="M1371.2 365.6H1387.4M1379.3 357.5V373.7" stroke="#0000ff" stroke-width="4.6" fill="none"/>
<text x="1418.2" y="377.4" class="lg">Dist [1] [16,1] Mixed</text>
<line x1="1348.7" y1="405.5" x2="1366.8" y2="405.5" stroke="#ff0000" stroke-width="4.6"/>
<line x1="1370.9" y1="405.5" x2="1402.5" y2="405.5" stroke="#ff0000" stroke-width="4.6"/>
<path d="M1371.2 405.5H1387.4M1379.3 397.4V413.6" stroke="#ff0000" stroke-width="4.6" fill="none"/>
<text x="1418.2" y="417.3" class="lg">Dist [1] [16,1] Open</text>
<text x="-1.2" y="29.8" class="pl" font-size="45.5">A</text>
<text x="686" y="29.8" class="pl" font-size="42.5">B</text>
</svg>
</body></html>
